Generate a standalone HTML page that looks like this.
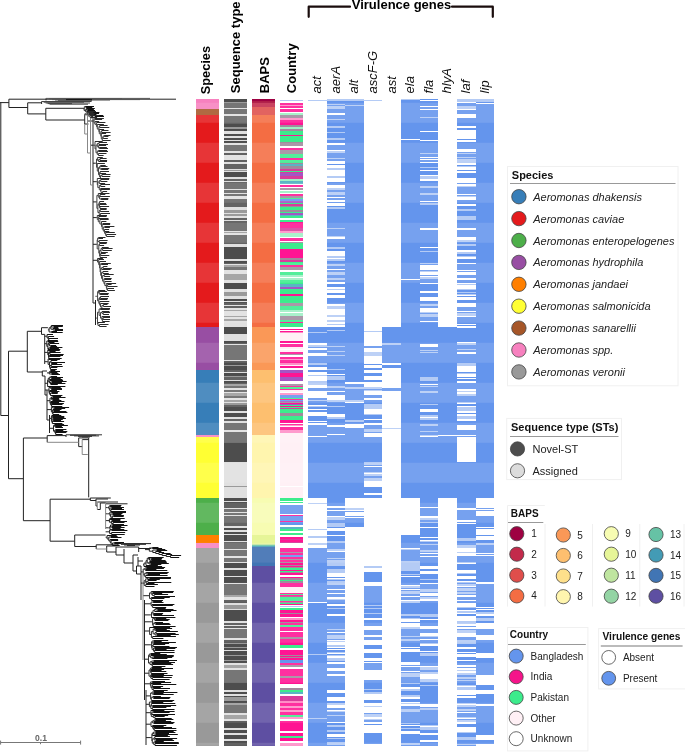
<!DOCTYPE html>
<html><head><meta charset="utf-8"><title>Aeromonas phylogeny</title>
<style>html,body{margin:0;padding:0;background:#fff;width:685px;height:752px;overflow:hidden}svg{display:block;will-change:transform}</style>
</head><body>
<svg width="685" height="752" viewBox="0 0 685 752">
<rect width="685" height="752" fill="#fff"/>
<path fill="none" stroke="#222" stroke-width="1.0" d="M0.8 102.6V415.5M0 102.6H8.9M8.9 99.2V107.5M8.9 99.2H46M46 99.2H176M46 98.4V100.4M8.9 107.5H27.7M27.7 102.8V113.9M27.7 102.8H41.6M41.6 101.5V104M27.7 113.9H45.8M45.8 108.3V120M45.8 108.3H83M86.1 106.5V107.5M85.4 107H86.1M85.4 106.5V107M84.2 106.8H85.4M87.4 109.5V110.5M86.4 110H87.4M86.4 108.5V110M85.8 109.2H86.4M87 111.5V112.5M85.8 112H87M85.8 109.2V112M84.2 110.6H85.8M84.2 106.8V110.6M83 108.7H84.2M45.8 120H84.7M84.7 114.4V124M84.7 114.4H88M89.8 112.5V113.5M89.4 113H89.8M94.9 116.5V118.5M92.8 117.5H94.9M92.8 115.5V117.5M91.2 116.5H92.8M91.2 114.5V116.5M89.4 115.5H91.2M89.4 113V115.5M88 114.2H89.4M84.7 124H88.5M93 118V303M95.5 300V325M93 303H95.5M84.7 113.9H86M87.5 121H93.5M90.5 145.2H93.5M93 163.2H95M93 181.7H96M93 201.9H96M93 217.6H96M93 244.3H96M93 260.3H97M95.5 296.3H96.5M95.5 318.1H96.5M0.8 415.5H8.5M8.5 351.2V478.7M8.5 351.2H27.3M27.3 331.3V372M27.3 331.3H41.5M41.5 327.7V334.4M41.5 327.7H47.9M53.8 326.5V327.5M51.4 327H53.8M51.4 325.5V327M50.9 326.2H51.4M54.9 329.5V330.5M53 330H54.9M53 328.5V330M50.9 329.2H53M50.9 326.2V329.2M49.1 327.8H50.9M51.6 331.5V332.5M49.1 332H51.6M49.1 327.8V332M47.9 329.9H49.1M41.5 334.4H44.7M44.7 334.4V356M48.8 338.5V340.5M48.3 339.5H48.8M48.3 336.5V339.5M47.1 338H48.3M47.1 334.5V338M46 336.2H47.1M44.7 336.2H46M48 340.5V341.5M46.8 341H48M50.6 345.5V346.5M49.6 346H50.6M49.6 343.5V346M48.7 344.8H49.6M48.7 342.5V344.8M47.9 343.6H48.7M49.8 347.5V348.5M48.5 348H49.8M48.5 348V350.5M47.9 349.2H48.5M47.9 343.6V349.2M46.8 346.4H47.9M46.8 341V346.4M46.5 343.7H46.8M44.7 343.7H46.5M48.4 349.5V350.5M47.8 350H48.4M49.9 352.5V354.5M49.6 353.5H49.9M49.6 351.5V353.5M48.5 352.5H49.6M49.3 355.5V356.5M48.8 356H49.3M48.8 356V358.5M48.5 357.2H48.8M48.5 352.5V357.2M47.8 354.9H48.5M47.8 350V354.9M47 352.4H47.8M44.7 352.4H47M49 358.5V359.5M48.1 359H49M51.4 362.5V363.5M51 363H51.4M51 360.5V363M49.5 361.8H51M51.3 364.5V366.5M49.9 365.5H51.3M50.5 367.5V369.5M49.9 368.5H50.5M49.9 365.5V368.5M49.5 367H49.9M49.5 361.8V367M48.1 364.4H49.5M48.1 359V364.4M47.5 361.7H48.1M44.7 361.7H47.5M44.7 356V364M27.3 372H42.3M42.3 371V376M42.3 371H47M50.6 370.5V371.5M50.1 371H50.6M50.1 371V372.5M49.3 371.8H50.1M51.7 373.5V374.5M49.3 374H51.7M49.3 371.8V374M47 372.9H49.3M42.3 376H45M45 376V395M47 390V420M49.5 415V433M45 395H47M47 420H49.5M51.4 377.5V378.5M50.8 378H51.4M50.8 376.5V378M49.3 377.2H50.8M49.3 377.2V379.5M48.2 378.4H49.3M51.8 381.5V382.5M50.5 382H51.8M50.8 383.5V384.5M50.5 384H50.8M50.5 382V384M49.6 383H50.5M49.6 380.5V383M48.2 381.8H49.6M48.2 378.4V381.8M47.6 380.1H48.2M47.6 380.1V386.5M47 383.3H47.6M45 383.3H47M51.5 388.5V389.5M51.2 389H51.5M51.2 387.5V389M50.4 388.2H51.2M50.4 386.5V388.2M49 387.4H50.4M49.8 390.5V391.5M49.4 391H49.8M51.7 392.5V393.5M50.5 393H51.7M50.5 393V395.5M49.4 394.2H50.5M49.4 391V394.2M49 392.6H49.4M49 387.4V392.6M47.5 390H49M45 390H47.5M52.8 396.5V397.5M51.5 397H52.8M52.9 399.5V400.5M52 400H52.9M52 398.5V400M51.5 399.2H52M51.5 397V399.2M50 398.1H51.5M51 401.5V402.5M50.4 402H51M51.6 404.5V406.5M51.2 405.5H51.6M51.2 403.5V405.5M50.4 404.5H51.2M50.4 402V404.5M50 403.2H50.4M50 398.1V403.2M49 400.7H50M47 400.7H49M54.2 407.5V408.5M52.8 408H54.2M52.8 406.5V408M51.4 407.2H52.8M53.9 410.5V411.5M53 411H53.9M53 409.5V411M52.4 410.2H53M52.9 412.5V414.5M52.4 413.5H52.9M52.4 410.2V413.5M51.4 411.9H52.4M51.4 407.2V411.9M50 409.6H51.4M47 409.6H50M52.6 416.5V417.5M51.8 417H52.6M51.8 415.5V417M51.4 416.2H51.8M53.1 418.5V419.5M51.8 419H53.1M53.2 420.5V421.5M52.4 421H53.2M52.4 421V423.5M51.8 422.2H52.4M51.8 419V422.2M51.4 420.6H51.8M51.4 416.2V420.6M51 418.4H51.4M49.5 418.4H51M55.6 426.5V427.5M55.1 427H55.6M55.1 425.5V427M54.7 426.2H55.1M54.7 424.5V426.2M53.5 425.4H54.7M55.7 429.5V430.5M54.8 430H55.7M55.7 432.5V434.5M55.4 433.5H55.7M55.4 431.5V433.5M54.8 432.5H55.4M54.8 430V432.5M53.5 431.2H54.8M53.5 425.4V431.2M52 428.3H53.5M49.5 428.3H52M8.5 478.7H23.4M23.4 438V520.7M23.4 438H47.2M47.2 435.6V442.3M47.2 435.6H66M66 434.8V437M78.7 437.9V446.6M78.7 437.9H88.7M78.7 446.6H82.2M82.2 439.6H88.7M88.7 437.9V497.4M23.4 520.7H50.1M50.1 499.2V541.2M50.1 499.2H90.3M90.3 498V500.5M90.3 498H110.8M90.3 500.5H96M96 499V506M96 499H108M96 506H97.3M97.3 502H118M97.3 509.5H100.3M100.3 503V509.5M100.3 503H105.6M105.6 503.8H127.5M110.1 505.5V506.5M109 506H110.1M111.6 507.5V508.5M109.8 508H111.6M110.9 509.5V511.5M109.8 510.5H110.9M109.8 508V510.5M109 509.2H109.8M109 506V509.2M107.5 507.6H109M105.6 507.6H107.5M111.3 511.5V512.5M109.9 512H111.3M112.7 513.5V514.5M110.7 514H112.7M113.4 515.5V516.5M112.3 516H113.4M112.3 516V518.5M110.7 517.2H112.3M110.7 514V517.2M109.9 515.6H110.7M109.9 512V515.6M107.5 513.8H109.9M105.6 513.8H107.5M110.1 518.5V519.5M109.4 519H110.1M112.1 520.5V521.5M111.4 521H112.1M113.1 522.5V524.5M111.4 523.5H113.1M111.4 521V523.5M109.4 522.2H111.4M109.4 519V522.2M108 520.6H109.4M105.6 520.6H108M112.6 524.5V525.5M110.5 525H112.6M111.9 526.5V527.5M110.5 527H111.9M110.5 525V527M110 526H110.5M112.4 528.5V530.5M110 529.5H112.4M110 526V529.5M108.5 527.8H110M105.6 527.8H108.5M112.1 529.5V530.5M109.6 530H112.1M111.6 532.5V534.5M109.6 533.5H111.6M109.6 530V533.5M109 531.8H109.6M105.6 531.8H109M50.1 541.2H74.7M74.7 535V546.5M74.7 535H105.6M111 536.5V537.5M108.8 537H111M114.4 542.5V543.5M112.5 543H114.4M112.5 543V545.5M111.1 544.2H112.5M111.1 540.5V544.2M110.1 542.4H111.1M110.1 539.5V542.4M108.8 540.9H110.1M108.8 537V540.9M107.1 539H108.8M107.1 535.5V539M105.6 537.2H107.1M74.7 546.5H96.2M96.2 544.8V549M96.2 544.8H118M118 543.6H151M121 544.3H146M124 545H140M127 545.6H135M118 543.6V545.6M106.7 546V552M106.7 546H116M106.7 552H116M116 547V555M116 547H138.7M138.7 547V552M138.7 548.5H151M152.4 547.5V548.5M149.3 548H152.4M156.8 549.5V550.5M152.8 550H156.8M170.5 555.5V557.5M166.2 556.5H170.5M166.2 554.5V556.5M162.1 555.5H166.2M162.1 553.5V555.5M158.9 554.5H162.1M158.9 552.5V554.5M155.7 553.5H158.9M155.7 551.5V553.5M152.8 552.5H155.7M152.8 550V552.5M149.3 551.2H152.8M149.3 548V551.2M145 549.6H149.3M116 555H124M124 549V563M124 563H133M133 555V571M133 555H138M138 557V566M151.3 557.5V558.5M149.5 558H151.3M151.7 560.5V561.5M151.1 561H151.7M151.1 559.5V561M149.5 560.2H151.1M149.5 558V560.2M148.4 559.1H149.5M148.4 557.5V559.1M147.2 558.3H148.4M149.8 561.5V562.5M149 562H149.8M150.7 563.5V564.5M149 564H150.7M149 562V564M147.2 563H149M147.2 558.3V563M146 560.7H147.2M146 560.7V565.5M144 563.1H146M144 563.1V566.5M143 564.8H144M138 561H143M133 571H136.5M136.5 566V574M136.5 566H141M136.5 574H141M141 566V600M144.5 600V700M146 690V745M141 571.9H142M141 583.1H143M143 595.7H149M144.5 603.8H150M144.5 614.9H150M144.5 621.8H151M144.5 631H149M144.5 644.8H150M144.5 659.2H148M144.5 673.2H148M144.5 683.8H150M146 695.9H150M146 704.3H149M146 712.7H150M146 724.2H150M146 737.6H150"/>
<path fill="none" stroke="#555" stroke-width="1.0" d="M46 98.4H150M49 98.8H122M52 99.6H140M55 100H110M58 100.4H92"/>
<path fill="none" stroke="#111" stroke-width="1.0" d="M66 99.6H92M85.4 106.5H94M86.1 106.5H91.9M86.1 107.5H92.3M86.4 108.5H94.8M87.4 109.5H93.9M87.4 110.5H95M87 111.5H95.9M87 112.5H94.9M89.8 112.5H99.4M89.8 113.5H99M91.2 114.5H96.5M92.8 115.5H103.3M94.9 116.5H104M94.9 118.5H100.3M51.4 325.5H63M53.8 326.5H62.8M53.8 327.5H58.3M53 328.5H58.7M54.9 329.5H63M54.9 330.5H63M51.6 331.5H57M51.6 332.5H62.7M47.1 334.5H53M48.3 336.5H54.1M48.8 338.5H58M48.8 340.5H57.6M48 340.5H57.6M48 341.5H58.2M48.7 342.5H54.5M49.6 343.5H59.1M50.6 345.5H56.1M50.6 346.5H57.1M49.8 347.5H62.4M49.8 348.5H58.9M48.5 350.5H59.4M48.4 349.5H60.3M48.4 350.5H59.6M49.6 351.5H55.6M49.9 352.5H60.6M49.9 354.5H63.7M49.3 355.5H63M49.3 356.5H60.4M48.8 358.5H60.2M49 358.5H61.7M49 359.5H59.9M51 360.5H57.3M51.4 362.5H65M51.4 363.5H57.2M51.3 364.5H61.9M51.3 366.5H62.7M50.5 367.5H57.4M50.5 369.5H56.9M50.6 370.5H55.4M50.6 371.5H60M50.1 372.5H57.3M51.7 373.5H58.5M51.7 374.5H60M50.8 376.5H57.1M51.4 377.5H63M51.4 378.5H60.7M49.3 379.5H62.4M49.6 380.5H63.1M51.8 381.5H66.6M51.8 382.5H61.9M50.8 383.5H65.4M50.8 384.5H57.8M47.6 386.5H61.7M50.4 386.5H65.4M51.2 387.5H60.7M51.5 388.5H61.9M51.5 389.5H62M49.8 390.5H57M49.8 391.5H59.4M51.7 392.5H57.9M51.7 393.5H57.7M50.5 395.5H62.4M52.8 396.5H61.1M52.8 397.5H65.5M52 398.5H59.2M52.9 399.5H59.4M52.9 400.5H61.4M51 401.5H64.5M51 402.5H59.1M51.2 403.5H63.9M51.6 404.5H62.5M51.6 406.5H59.9M52.8 406.5H62.3M54.2 407.5H69.1M54.2 408.5H65.2M53 409.5H61.5M53.9 410.5H59.9M53.9 411.5H66.4M52.9 412.5H67.4M52.9 414.5H59.2M51.8 415.5H61.3M52.6 416.5H64.3M52.6 417.5H64.3M53.1 418.5H65.9M53.1 419.5H62.8M53.2 420.5H61.1M53.2 421.5H64.1M52.4 423.5H62.4M54.7 424.5H64.1M55.1 425.5H67.9M55.6 426.5H61.9M55.6 427.5H63M55.7 429.5H66.4M55.7 430.5H63.3M55.4 431.5H67.3M55.7 432.5H66.4M55.7 434.5H62.6M110.1 505.5H121.4M110.1 506.5H120.8M111.6 507.5H124M111.6 508.5H122M110.9 509.5H124M110.9 511.5H123.9M111.3 511.5H126M111.3 512.5H126M112.7 513.5H122.5M112.7 514.5H121.4M113.4 515.5H123.9M113.4 516.5H123.7M112.3 518.5H123.7M110.1 518.5H124.7M110.1 519.5H120.5M112.1 520.5H120.4M112.1 521.5H127M113.1 522.5H124.5M113.1 524.5H124M112.6 524.5H121.8M112.6 525.5H127.5M111.9 526.5H121.3M111.9 527.5H124.6M112.4 528.5H120.6M112.4 530.5H124M112.1 529.5H124.3M112.1 530.5H127.4M111.6 532.5H125.2M111.6 534.5H124.7M107.1 535.5H116.7M111 536.5H117.6M111 537.5H121.5M110.1 539.5H118.1M111.1 540.5H118.2M114.4 542.5H124M114.4 543.5H120.8M112.5 545.5H119.7M152.4 547.5H158.5M152.4 548.5H162.1M156.8 549.5H165.3M156.8 550.5H167.2M155.7 551.5H161.4M158.9 552.5H164.1M162.1 553.5H170.6M166.2 554.5H172.1M170.5 555.5H181.1M170.5 557.5H179.2M148.4 557.5H163.7M151.3 557.5H161M151.3 558.5H162.2M151.1 559.5H161.6M151.7 560.5H165.6M151.7 561.5H166.4M149.8 561.5H165.8M149.8 562.5H166.8M150.7 563.5H168.8M150.7 564.5H161.3M146 565.5H157.9M144 566.5H162.1M146.2 567.5H165.1M146.2 568.5H163.9M145.5 569.5H156.4M145.5 570.5H167.3M146.1 572.5H168.7M147.6 573.5H167.5M147.6 574.5H160M145.6 575.5H167.6M145.6 577.5H167.5M149.5 577.5H171M149.5 578.5H170.8M147.6 579.5H159.8M147.9 580.5H156.6M147.9 582.5H171.3M146.2 583.5H154.5M145.7 584.5H157.9M145.7 586.5H154.5M151.2 591.5H173.8M152.8 592.5H173.1M152.8 593.5H162.2M154.2 594.5H168.1M154.2 596.5H175M151.2 597.5H169.8M151.6 598.5H164.4M151.6 600.5H163M153.1 601.5H161.9M153.1 602.5H163.5M152 604.5H174.4M152.6 605.5H172.8M152.6 607.5H166.2M155.6 608.5H165.7M157.5 609.5H173.5M157.5 610.5H176.5M154.6 611.5H171.1M153.3 613.5H163.1M153.8 614.5H162.3M153.8 615.5H174M151.5 617.5H175.4M154.5 617.5H162.7M155.4 618.5H166.3M155.4 619.5H169.7M154.9 620.5H168.4M154.7 622.5H163M155.7 623.5H169.6M155.7 624.5H170.6M153.2 626.5H175.6M149.6 627.5H170.1M154.2 628.5H172.1M155.3 629.5H166.8M155.3 630.5H169.9M156.2 631.5H177.9M156.2 633.5H175.6M156.9 634.5H178.8M156.9 635.5H170.7M152.6 636.5H175.9M152.6 638.5H163.4M153.7 640.5H168.2M153.7 641.5H161.7M153.6 642.5H175.9M153.6 643.5H169.1M153.1 644.5H165.2M153.1 646.5H169.5M154.5 647.5H177M154.5 648.5H175.4M155 649.5H166.6M155 650.5H174.5M154.6 652.5H174.6M150.8 653.5H160.3M150.8 654.5H166.8M150.7 655.5H173.8M153.7 656.5H173.6M153.7 657.5H172.2M152.2 658.5H167.4M153.7 660.5H177M153.7 661.5H169.2M151.7 662.5H175M151.9 663.5H171.3M152.3 664.5H173.1M152.3 666.5H165.4M151.8 667.5H161.7M151.8 668.5H173M150.7 669.5H164.1M150.7 670.5H161.6M151.1 671.5H166.3M151.1 673.5H167.5M151.1 674.5H164.1M151.1 675.5H172.7M151 676.5H163.6M152.5 677.5H171.8M152.5 679.5H169.6M152.2 681.5H165M152.2 682.5H171.1M150.9 683.5H161.2M152.4 684.5H176.3M152.7 686.5H163.1M152.7 687.5H160.8M153.3 688.5H170M153.3 690.5H167.7M153.7 691.5H164M153.7 692.5H177.4M153.4 693.5H163.5M153.4 694.5H173.7M152.9 696.5H160.9M153.6 697.5H170.4M153.6 698.5H169.6M151.3 700.5H174.2M151.4 701.5H172.6M151.4 702.5H163.3M151.4 703.5H175.3M152.5 705.5H176.2M152.5 706.5H170.9M152.4 707.5H166.4M152.4 709.5H174.5M150.9 710.5H164.4M153.2 711.5H174.6M153.2 712.5H169.6M152 714.5H175M153.2 715.5H168.2M154.9 716.5H164.7M154.9 718.5H171.7M155.2 719.5H173.4M155.2 720.5H165.9M153.9 721.5H171.2M154 722.5H174.5M154 723.5H173.4M152.5 725.5H166.3M152.8 726.5H163.7M153.5 727.5H172M154.3 728.5H176.3M154.3 730.5H176.5M155.4 731.5H173.7M155.4 732.5H175.4M155.5 733.5H169M155.5 734.5H177.8M152.3 735.5H167.9M154.9 736.5H169.9M154.9 738.5H177.1M155.8 739.5H172.6M155.8 740.5H174.1M154.8 741.5H163.8M154.8 742.5H178.7M155 743.5H178.9M155 745.5H176.9"/>
<path fill="none" stroke="#444" stroke-width="1.0" d="M41.6 101.5H91.6M43.6 102.2H84M45.6 103H90M47.6 103.6H72M49.6 104.2H88M88.8 112.5V113.5M88.2 113H88.8M88.2 111.5V113M87.5 112.2H88.2M90.2 115.5V117.5M89 116.5H90.2M89 114.5V116.5M87.5 115.5H89M87.5 112.2V115.5M86 113.9H87.5M95.1 118.5V119.5M94.1 119H95.1M99.7 125.5V127.5M98.9 126.5H99.7M101.7 130.5V132.5M100.8 131.5H101.7M104.2 135.5V136.5M103.2 136H104.2M103.2 136V138.5M102.3 137.2H103.2M102.3 137.2V140.5M101.3 138.9H102.3M101.3 133.5V138.9M100.8 136.2H101.3M100.8 131.5V136.2M99.3 133.8H100.8M99.3 129.5V133.8M98.9 131.7H99.3M98.9 126.5V131.7M97.3 129.1H98.9M97.3 124.5V129.1M96.6 126.8H97.3M96.6 122.5V126.8M95.1 124.6H96.6M95.1 121.5V124.6M94.1 123.1H95.1M94.1 119V123.1M93.5 121H94.1M98.9 142.5V144.5M97.3 143.5H98.9M99.4 147.5V148.5M98.6 148H99.4M98.6 145.5V148M97.3 146.8H98.6M97.3 143.5V146.8M96 145.1H97.3M98.4 150.5V151.5M97.3 151H98.4M98.5 153.5V155.5M97.3 154.5H98.5M97.3 151V154.5M96 152.8H97.3M96 145.1V152.8M95 148.9H96M95 141.5V148.9M93.5 145.2H95M100 158.5V160.5M98.6 159.5H100M98.6 159.5V161.5M97.6 160.5H98.6M97.6 157.5V160.5M96.5 159H97.6M100.6 165.5V166.5M99.8 166H100.6M101.2 168.5V169.5M99.8 169H101.2M99.8 166V169M98.5 167.5H99.8M100.1 171.5V173.5M99.6 172.5H100.1M101.9 174.5V176.5M100.5 175.5H101.9M100.5 175.5V178.5M99.6 177H100.5M99.6 172.5V177M98.5 174.8H99.6M98.5 167.5V174.8M97.3 171.1H98.5M97.3 163.5V171.1M96.5 167.3H97.3M96.5 159V167.3M95 163.2H96.5M100.7 179.5V181.5M99.3 180.5H100.7M99.3 180.5V183.5M97.8 182H99.3M100.7 184.5V186.5M99.3 185.5H100.7M102.6 191.5V193.5M101 192.5H102.6M101 189.5V192.5M100.5 191H101M100.5 188.5V191M99.3 189.8H100.5M99.3 185.5V189.8M97.8 187.6H99.3M97.8 182V187.6M97.3 184.8H97.8M97.3 178.5V184.8M96 181.7H97.3M100.1 194.5V196.5M99.6 195.5H100.1M101.1 198.5V199.5M99.6 199H101.1M99.6 195.5V199M98.3 197.2H99.6M98.3 193.5V197.2M96.9 195.4H98.3M99.6 201.5V203.5M99 202.5H99.6M100 206.5V208.5M99.5 207.5H100M99.5 204.5V207.5M99 206H99.5M99 202.5V206M97.9 204.2H99M100.2 209.5V211.5M99.2 210.5H100.2M100.4 213.5V215.5M99.2 214.5H100.4M99.2 210.5V214.5M97.9 212.5H99.2M97.9 204.2V212.5M96.9 208.4H97.9M96.9 195.4V208.4M96 201.9H96.9M98.8 216.5V218.5M98.3 217.5H98.8M103 223.5V224.5M102.2 224H103M104.7 226.5V227.5M103.3 227H104.7M106.5 234.5V236.5M105.7 235.5H106.5M105.7 232.5V235.5M105 234H105.7M105 231.5V234M104.5 232.8H105M104.5 229.5V232.8M103.3 231.1H104.5M103.3 227V231.1M102.2 229.1H103.3M102.2 224V229.1M101.5 226.5H102.2M101.5 221.5V226.5M99.9 224H101.5M99.9 219.5V224M98.3 221.8H99.9M98.3 217.5V221.8M97.3 219.6H98.3M97.3 215.5V219.6M96 217.6H97.3M98.5 237.5V238.5M97.7 238H98.5M99.2 240.5V242.5M97.7 241.5H99.2M97.7 238V241.5M97.2 239.8H97.7M99.5 243.5V245.5M98.8 244.5H99.5M102.6 248.5V250.5M102 249.5H102.6M102 247.5V249.5M101 248.5H102M101 248.5V252.5M99.6 250.5H101M100.7 253.5V255.5M100.1 254.5H100.7M100.1 254.5V257.5M99.6 256H100.1M99.6 250.5V256M98.8 253.2H99.6M98.8 244.5V253.2M97.2 248.9H98.8M97.2 239.8V248.9M96 244.3H97.2M101.3 263.5V264.5M100.1 264H101.3M103.2 266.5V268.5M101.7 267.5H103.2M101.7 267.5V269.5M100.7 268.5H101.7M102.9 271.5V273.5M101.5 272.5H102.9M104.2 274.5V276.5M102.6 275.5H104.2M104.4 278.5V279.5M103.9 279H104.4M107.6 284.5V286.5M106.7 285.5H107.6M107.5 288.5V290.5M106.7 289.5H107.5M106.7 285.5V289.5M106.3 287.5H106.7M106.3 283.5V287.5M104.8 285.5H106.3M104.8 281.5V285.5M103.9 283.5H104.8M103.9 279V283.5M102.6 281.2H103.9M102.6 275.5V281.2M101.5 278.4H102.6M101.5 272.5V278.4M100.7 275.4H101.5M100.7 268.5V275.4M100.1 272H100.7M100.1 264V272M99.6 268H100.1M99.6 261.5V268M98.7 264.7H99.6M98.7 259.5V264.7M97.5 262.1H98.7M97.5 258.5V262.1M97 260.3H97.5M100.1 293.5V294.5M99.2 294H100.1M99.2 291.5V294M98.6 292.8H99.2M98.6 290.5V292.8M97.6 291.6H98.6M100.5 296.5V298.5M99.5 297.5H100.5M99.5 297.5V299.5M98.8 298.5H99.5M103.4 304.5V306.5M101.9 305.5H103.4M101.9 305.5V308.5M100.5 307H101.9M100.5 303.5V307M99.7 305.2H100.5M99.7 301.5V305.2M98.8 303.4H99.7M98.8 298.5V303.4M97.6 300.9H98.8M97.6 291.6V300.9M96.5 296.3H97.6M100.3 308.5V309.5M99.1 309H100.3M103.2 312.5V314.5M102 313.5H103.2M102 311.5V313.5M100.5 312.5H102M103.1 317.5V319.5M102.4 318.5H103.1M102.4 318.5V321.5M101.9 320H102.4M101.9 316.5V320M100.5 318.2H101.9M100.5 312.5V318.2M99.1 315.4H100.5M99.1 309V315.4M97.5 312.2H99.1M99.5 324.5V326.5M98 325.5H99.5M98 322.5V325.5M97.5 324H98M97.5 312.2V324M96.5 318.1H97.5"/>
<path fill="none" stroke="#888" stroke-width="1.0" d="M84.7 124V134M87.5 115V153M90.5 116V185M84.7 134H87.5M87.5 153H90.5M90.5 185H93M84.7 115H87.5M87.5 116H90.5M90.5 118H93M47.2 442.3H78.7M82.2 439.6V454.5M82.2 454.5H87.8M97.3 502V509.5M105.6 503.8V529M96.2 549H106.7M143 575V660"/>
<path fill="none" stroke="#2a2a2a" stroke-width="1.0" d="M88.2 111.5H95.6M88.8 112.5H93.4M88.8 113.5H94.7M89 114.5H94.2M90.2 115.5H99M90.2 117.5H97.1M95.1 118.5H103.9M95.1 119.5H102.1M95.1 121.5H99.2M96.6 122.5H105.4M97.3 124.5H103.9M99.7 125.5H107.6M99.7 127.5H109.3M99.3 129.5H104.1M101.7 130.5H108.5M101.7 132.5H110.6M101.3 133.5H106.1M104.2 135.5H110.5M104.2 136.5H108.4M103.2 138.5H107.8M102.3 140.5H110.6M95 141.5H102.7M98.9 142.5H107M98.9 144.5H108M98.6 145.5H106.1M99.4 147.5H106.9M99.4 148.5H108M98.4 150.5H107.1M98.4 151.5H108M98.5 153.5H106.5M98.5 155.5H103.6M97.6 157.5H102.8M100 158.5H106.6M100 160.5H107.1M98.6 161.5H107M97.3 163.5H104.9M100.6 165.5H105.7M100.6 166.5H107.5M101.2 168.5H109.2M101.2 169.5H108.3M100.1 171.5H109M100.1 173.5H106.1M101.9 174.5H110.6M101.9 176.5H110.2M100.5 178.5H109.4M97.3 178.5H105.3M100.7 179.5H109.1M100.7 181.5H107.4M99.3 183.5H105.1M100.7 184.5H110M100.7 186.5H105.2M100.5 188.5H109.9M101 189.5H109.9M102.6 191.5H107.1M102.6 193.5H109.5M98.3 193.5H107.4M100.1 194.5H105.3M100.1 196.5H109.9M101.1 198.5H108.4M101.1 199.5H108.2M99.6 201.5H104.1M99.6 203.5H106.1M99.5 204.5H106.7M100 206.5H109.1M100 208.5H106.7M100.2 209.5H106.6M100.2 211.5H109.1M100.4 213.5H110M100.4 215.5H107M97.3 215.5H103.9M98.8 216.5H106.6M98.8 218.5H108.5M99.9 219.5H108.7M101.5 221.5H106.4M103 223.5H110.2M103 224.5H110.1M104.7 226.5H114.4M104.7 227.5H109.9M104.5 229.5H109.1M105 231.5H109.3M105.7 232.5H114.8M106.5 234.5H116.1M106.5 236.5H114.7M98.5 237.5H105.5M98.5 238.5H103M99.2 240.5H107.6M99.2 242.5H107.1M99.5 243.5H106.6M99.5 245.5H104.1M102 247.5H108.7M102.6 248.5H112.6M102.6 250.5H111.8M101 252.5H107.8M100.7 253.5H105.7M100.7 255.5H109.3M100.1 257.5H107M97.5 258.5H102.9M98.7 259.5H104M99.6 261.5H106M101.3 263.5H110.8M101.3 264.5H108M103.2 266.5H107.4M103.2 268.5H111.8M101.7 269.5H110.6M102.9 271.5H108.3M102.9 273.5H108.8M104.2 274.5H113.7M104.2 276.5H110.1M104.4 278.5H111.7M104.4 279.5H111.1M104.8 281.5H111.6M106.3 283.5H116.1M107.6 284.5H111.6M107.6 286.5H117.5M107.5 288.5H114M107.5 290.5H114.9M98.6 290.5H105.2M99.2 291.5H106.9M100.1 293.5H108.8M100.1 294.5H108.2M100.5 296.5H109M100.5 298.5H108M99.5 299.5H107.4M99.7 301.5H109.3M100.5 303.5H108.6M103.4 304.5H107.5M103.4 306.5H111M101.9 308.5H108.2M100.3 308.5H110M100.3 309.5H109.7M102 311.5H109.4M103.2 312.5H110M103.2 314.5H109M101.9 316.5H110M103.1 317.5H110M103.1 319.5H110M102.4 321.5H109.6M98 322.5H104.9M99.5 324.5H108.5M99.5 326.5H106.6"/>
<path fill="none" stroke="#333" stroke-width="1.0" d="M66 434.8H102M70 435.3H96M74 435.9H99M78 436.4H92M82 437H90M146.2 567.5V568.5M144.9 568H146.2M145.5 569.5V570.5M144.9 570H145.5M144.9 568V570M143.2 569H144.9M147.6 573.5V574.5M146.1 574H147.6M146.1 572.5V574M144.7 573.2H146.1M145.6 575.5V577.5M144.7 576.5H145.6M144.7 573.2V576.5M143.2 574.9H144.7M143.2 569V574.9M142 571.9H143.2M149.5 577.5V578.5M147.6 578H149.5M147.6 578V579.5M145.7 578.8H147.6M147.9 580.5V582.5M146.2 581.5H147.9M146.2 581.5V583.5M145.7 582.5H146.2M145.7 578.8V582.5M144.2 580.6H145.7M145.7 584.5V586.5M144.2 585.5H145.7M144.2 580.6V585.5M143 583.1H144.2M152.8 592.5V593.5M152.3 593H152.8M154.2 594.5V596.5M152.3 595.5H154.2M152.3 593V595.5M151.2 594.2H152.3M151.2 591.5V594.2M149.5 592.9H151.2M151.6 598.5V600.5M151.2 599.5H151.6M151.2 597.5V599.5M149.5 598.5H151.2M149.5 592.9V598.5M149 595.7H149.5M153.1 601.5V602.5M151.1 602H153.1M152.6 605.5V607.5M152 606.5H152.6M152 604.5V606.5M151.1 605.5H152M151.1 602V605.5M150 603.8H151.1M157.5 609.5V610.5M155.6 610H157.5M155.6 608.5V610M154.6 609.2H155.6M154.6 609.2V611.5M153 610.4H154.6M153.8 614.5V615.5M153.3 615H153.8M153.3 613.5V615M153 614.2H153.3M153 610.4V614.2M151.5 612.3H153M151.5 612.3V617.5M150 614.9H151.5M155.4 618.5V619.5M154.9 619H155.4M154.9 619V620.5M154.5 619.8H154.9M154.5 617.5V619.8M152.6 618.6H154.5M155.7 623.5V624.5M154.7 624H155.7M154.7 622.5V624M153.2 623.2H154.7M153.2 623.2V626.5M152.6 624.9H153.2M152.6 618.6V624.9M151 621.8H152.6M155.3 629.5V630.5M154.2 630H155.3M154.2 628.5V630M153.1 629.2H154.2M156.2 631.5V633.5M155 632.5H156.2M156.9 634.5V635.5M155 635H156.9M155 632.5V635M153.1 633.8H155M153.1 629.2V633.8M151.4 631.5H153.1M152.6 636.5V638.5M151.4 637.5H152.6M151.4 631.5V637.5M149.6 634.5H151.4M149.6 627.5V634.5M149 631H149.6M153.7 640.5V641.5M152 641H153.7M153.6 642.5V643.5M152 643H153.6M152 641V643M151.6 642H152M153.1 644.5V646.5M152.1 645.5H153.1M154.5 647.5V648.5M153.5 648H154.5M155 649.5V650.5M154.6 650H155M154.6 650V652.5M153.5 651.2H154.6M153.5 648V651.2M152.1 649.6H153.5M152.1 645.5V649.6M151.6 647.6H152.1M151.6 642V647.6M150 644.8H151.6M150.8 653.5V654.5M149.3 654H150.8M153.7 656.5V657.5M152.2 657H153.7M152.2 657V658.5M150.7 657.8H152.2M150.7 655.5V657.8M149.3 656.6H150.7M149.3 654V656.6M148.5 655.3H149.3M153.7 660.5V661.5M151.7 661H153.7M151.7 661V662.5M150 661.8H151.7M152.3 664.5V666.5M151.9 665.5H152.3M151.9 663.5V665.5M150 664.5H151.9M150 661.8V664.5M148.5 663.1H150M148.5 655.3V663.1M148 659.2H148.5M151.8 667.5V668.5M150.7 668H151.8M150.7 668V669.5M150.2 668.8H150.7M151.1 671.5V673.5M150.7 672.5H151.1M150.7 670.5V672.5M150.2 671.5H150.7M150.2 668.8V671.5M149 670.1H150.2M151.1 674.5V675.5M150.7 675H151.1M152.5 677.5V679.5M151 678.5H152.5M151 676.5V678.5M150.7 677.5H151M150.7 675V677.5M149 676.2H150.7M149 670.1V676.2M148 673.2H149M152.2 681.5V682.5M150.4 682H152.2M152.7 686.5V687.5M152.4 687H152.7M152.4 684.5V687M152 685.8H152.4M153.3 688.5V690.5M152 689.5H153.3M152 685.8V689.5M150.9 687.6H152M150.9 683.5V687.6M150.4 685.6H150.9M150.4 682V685.6M150 683.8H150.4M153.7 691.5V692.5M152 692H153.7M153.4 693.5V694.5M152 694H153.4M152 692V694M150.6 693H152M153.6 697.5V698.5M152.9 698H153.6M152.9 696.5V698M151.3 697.2H152.9M151.3 697.2V700.5M150.6 698.9H151.3M150.6 693V698.9M150 695.9H150.6M151.4 701.5V702.5M149.4 702H151.4M152.5 705.5V706.5M151.4 706H152.5M151.4 703.5V706M150.8 704.8H151.4M152.4 707.5V709.5M150.8 708.5H152.4M150.8 704.8V708.5M149.4 706.6H150.8M149.4 702V706.6M149 704.3H149.4M153.2 711.5V712.5M152 712H153.2M152 712V714.5M151.3 713.2H152M154.9 716.5V718.5M153.2 717.5H154.9M153.2 715.5V717.5M151.3 716.5H153.2M151.3 713.2V716.5M150.9 714.9H151.3M150.9 710.5V714.9M150 712.7H150.9M155.2 719.5V720.5M153.9 720H155.2M153.9 720V721.5M152.7 720.8H153.9M154 722.5V723.5M152.7 723H154M152.7 720.8V723M151 721.9H152.7M154.3 728.5V730.5M153.5 729.5H154.3M153.5 727.5V729.5M152.8 728.5H153.5M152.8 726.5V728.5M152.5 727.5H152.8M152.5 725.5V727.5M151 726.5H152.5M151 721.9V726.5M150 724.2H151M155.4 731.5V732.5M153.6 732H155.4M155.5 733.5V734.5M153.6 734H155.5M153.6 732V734M152.3 733H153.6M152.3 733V735.5M151.9 734.2H152.3M154.9 736.5V738.5M154.2 737.5H154.9M155.8 739.5V740.5M154.2 740H155.8M154.2 737.5V740M152.3 738.8H154.2M154.8 741.5V742.5M153.7 742H154.8M155 743.5V745.5M153.7 744.5H155M153.7 742V744.5M152.3 743.2H153.7M152.3 738.8V743.2M151.9 741H152.3M151.9 734.2V741M150 737.6H151.9"/>
<g shape-rendering="crispEdges">
<path fill="#f781bf" d="M196 99h23v10h-23zM196 435h23v2h-23zM196 543h23v5h-23z"/>
<path fill="#a65628" d="M196 109h23v5.6h-23z"/>
<path fill="#e41a1c" d="M196 114.6h23v212.4h-23z"/>
<path fill="#984ea3" d="M196 327h23v43h-23z"/>
<path fill="#377eb8" d="M196 370h23v65h-23z"/>
<path fill="#ffff33" d="M196 437h23v61h-23z"/>
<path fill="#4daf4a" d="M196 498h23v37h-23z"/>
<path fill="#ff7f00" d="M196 535h23v8h-23z"/>
<path fill="#999999" d="M196 548h23v198h-23z"/>
<path fill="#9e0142" d="M252 99h23v2h-23z"/>
<path fill="#b01d48" d="M252 101h23v2.3h-23z"/>
<path fill="#c32a4b" d="M252 103.3h23v3.9h-23z"/>
<path fill="#df4e4b" d="M252 107.2h23v7.5h-23z"/>
<path fill="#f46d43" d="M252 114.7h23v212.3h-23z"/>
<path fill="#fa9857" d="M252 327h23v43h-23z"/>
<path fill="#fdbf6f" d="M252 370h23v65h-23z"/>
<path fill="#fff5ae" d="M252 435h23v63h-23z"/>
<path fill="#f7fcb2" d="M252 498h23v37h-23z"/>
<path fill="#e6f598" d="M252 535h23v9h-23z"/>
<path fill="#bfe5a0" d="M252 544h23v1h-23z"/>
<path fill="#66c2a5" d="M252 545h23v1h-23z"/>
<path fill="#439bb5" d="M252 546h23v1h-23z"/>
<path fill="#3a6cb0" d="M252 547h23v16h-23z"/>
<path fill="#4175b4" d="M252 563h23v3h-23z"/>
<path fill="#5e4fa2" d="M252 566h23v180h-23z"/>
<path fill="#4d4d4d" d="M224 99h23v3h-23zM224 124h23v2.5h-23zM224 129h23v2h-23zM224 134.4h23v1.2h-23zM224 138h23v1.7h-23zM224 141.4h23v1.8h-23zM224 152.8h23v1.8h-23zM224 159.8h23v2.6h-23zM224 172.2h23v5.2h-23zM224 246.9h23v11.8h-23zM224 260.5h23v3h-23zM224 283h23v6h-23zM224 299h23v1.5h-23zM224 302h23v3h-23zM224 306h23v1.5h-23zM224 327h23v7h-23zM224 341h23v2.5h-23zM224 361h23v4h-23zM224 366h23v4h-23zM224 373h23v3h-23zM224 381h23v3h-23zM224 407h23v4h-23zM224 413h23v4h-23zM224 443h23v18.5h-23zM224 498h23v2.5h-23zM224 502h23v6h-23zM224 528h23v2h-23zM224 532h23v1.5h-23zM224 535h23v6h-23zM224 563h23v4.5h-23zM224 570h23v5.5h-23zM224 577h23v5.5h-23zM224 600h23v3h-23zM224 610h23v11h-23zM224 622.5h23v2.5h-23zM224 626h23v2h-23zM224 640h23v3h-23zM224 644h23v3h-23zM224 648h23v2h-23zM224 651h23v4h-23zM224 656h23v4h-23zM224 661h23v2h-23zM224 683h23v7h-23zM224 692h23v2h-23zM224 696h23v1h-23zM224 701h23v2h-23zM224 720.5h23v7.5h-23zM224 730h23v3h-23zM224 735h23v4h-23zM224 741h23v5h-23z"/>
<path fill="#9a9a9a" d="M224 102h23v1.4h-23zM224 126.5h23v2.5h-23zM224 170.3h23v0.9h-23zM224 209.7h23v3.1h-23zM224 213.7h23v2.5h-23zM224 232h23v1.3h-23zM224 265h23v2h-23zM224 274h23v6h-23zM224 292h23v4h-23zM224 310h23v1h-23zM224 315.5h23v1.5h-23zM224 319h23v1.5h-23zM224 365h23v1h-23zM224 376h23v1h-23zM224 384h23v2h-23zM224 393h23v3h-23zM224 400h23v2h-23zM224 403h23v2h-23zM224 486h23v1h-23zM224 595h23v2h-23zM224 605h23v4h-23zM224 643h23v1h-23zM224 647h23v1h-23zM224 655h23v1h-23zM224 660h23v1h-23zM224 665h23v3h-23zM224 697h23v4h-23zM224 703h23v2h-23zM224 714.5h23v4.5h-23z"/>
<path fill="#646464" d="M224 103.4h23v4.6h-23zM224 109h23v5.3h-23zM224 115.7h23v8.3h-23zM224 145h23v6h-23zM224 164h23v4.6h-23zM224 178.7h23v2.5h-23zM224 182.2h23v6.4h-23zM224 189.9h23v3.1h-23zM224 193.8h23v2.2h-23zM224 199.2h23v8h-23zM224 217.8h23v1.8h-23zM224 220.9h23v9.9h-23zM224 235.1h23v8.7h-23zM224 267h23v3h-23zM224 345h23v14.5h-23zM224 370h23v2h-23zM224 377h23v3h-23zM224 386h23v2h-23zM224 389.5h23v2.5h-23zM224 396h23v2h-23zM224 405h23v2h-23zM224 419h23v2h-23zM224 423h23v7h-23zM224 432h23v11h-23zM224 509h23v3h-23zM224 513h23v2h-23zM224 516h23v10h-23zM224 542h23v7h-23zM224 550h23v6h-23zM224 558h23v4h-23zM224 583.5h23v11.5h-23zM224 629h23v9h-23zM224 670h23v13h-23zM224 705h23v3h-23zM224 708h23v5h-23z"/>
<path fill="#e0e0e0" d="M224 108h23v1h-23zM224 114.3h23v1.4h-23zM224 131h23v3.4h-23zM224 135.6h23v2.4h-23zM224 139.7h23v1.7h-23zM224 143.2h23v1.8h-23zM224 151h23v1.8h-23zM224 154.6h23v5.2h-23zM224 162.4h23v1.6h-23zM224 168.6h23v1.7h-23zM224 171.2h23v1h-23zM224 177.4h23v1.3h-23zM224 181.2h23v1h-23zM224 188.6h23v1.3h-23zM224 193h23v0.8h-23zM224 196h23v3.2h-23zM224 207.2h23v2.5h-23zM224 212.8h23v0.9h-23zM224 216.2h23v1.6h-23zM224 219.6h23v1.3h-23zM224 230.8h23v1.2h-23zM224 233.3h23v1.8h-23zM224 243.8h23v3.1h-23zM224 258.7h23v1.8h-23zM224 263.5h23v1.5h-23zM224 270h23v4h-23zM224 280h23v3h-23zM224 289h23v3h-23zM224 296h23v3h-23zM224 300.5h23v1.5h-23zM224 305h23v1h-23zM224 307.5h23v2.5h-23zM224 311h23v4.5h-23zM224 317h23v2h-23zM224 320.5h23v1.5h-23zM224 322h23v5h-23zM224 334h23v7h-23zM224 343.5h23v1.5h-23zM224 359.5h23v1.5h-23zM224 372h23v1h-23zM224 380h23v1h-23zM224 388h23v1.5h-23zM224 392h23v1h-23zM224 398h23v2h-23zM224 402h23v1h-23zM224 411h23v2h-23zM224 417h23v2h-23zM224 421h23v2h-23zM224 430h23v2h-23zM224 461.5h23v24.5h-23zM224 487h23v11h-23zM224 500.5h23v1.5h-23zM224 508h23v1h-23zM224 512h23v1h-23zM224 515h23v1h-23zM224 526h23v2h-23zM224 530h23v2h-23zM224 533.5h23v1.5h-23zM224 541h23v1h-23zM224 549h23v1h-23zM224 556h23v2h-23zM224 562h23v1h-23zM224 567.5h23v2.5h-23zM224 575.5h23v1.5h-23zM224 582.5h23v1h-23zM224 597h23v3h-23zM224 603h23v2h-23zM224 609h23v1h-23zM224 621h23v1.5h-23zM224 625h23v1h-23zM224 628h23v1h-23zM224 638h23v2h-23zM224 650h23v1h-23zM224 663h23v2h-23zM224 668h23v2h-23zM224 690h23v2h-23zM224 694h23v2h-23zM224 713h23v1.5h-23zM224 719h23v1.5h-23zM224 728h23v2h-23zM224 733h23v2h-23zM224 739h23v2h-23z"/>
<path fill="#ffffff" d="M280 99h23v0.8h-23zM280 100.5h23v2.5h-23zM280 107.8h23v1h-23zM280 112h23v1.3h-23zM280 146h23v2.2h-23zM280 183.6h23v1.3h-23zM280 186.7h23v1.3h-23zM280 189.9h23v1.2h-23zM280 193h23v1.2h-23zM280 218.4h23v1.2h-23zM280 237h23v1.2h-23zM280 240.7h23v1.3h-23zM280 270h23v2h-23zM280 277h23v1h-23zM280 312h23v1h-23zM280 327h23v1.5h-23zM280 329.5h23v1h-23zM280 340.5h23v0.5h-23zM280 343h23v0.5h-23zM280 349h23v1h-23zM280 355h23v2h-23zM280 368h23v2h-23zM280 372.5h23v0.5h-23zM280 381h23v2.5h-23zM280 392h23v1h-23zM280 423h23v1h-23zM280 426h23v1h-23zM280 486h23v1h-23zM280 500.5h23v1h-23zM280 503h23v1.5h-23zM280 513.5h23v1.5h-23zM280 525h23v2h-23zM280 531h23v1.5h-23zM280 533.5h23v0.5h-23zM280 535h23v2h-23zM280 543h23v5h-23zM280 575h23v2h-23zM280 605h23v1h-23zM280 607h23v1h-23zM280 617h23v1h-23zM280 631h23v1h-23zM280 648h23v2h-23zM280 667h23v2h-23zM280 684h23v4h-23zM280 694h23v2h-23zM280 719h23v2h-23zM280 731h23v2h-23zM280 741h23v2h-23z"/>
<path fill="#b4c8f4" d="M280 99.8h23v0.7h-23zM280 606h23v1h-23z"/>
<path fill="#ff1493" d="M280 103h23v2.1h-23zM280 105.9h23v1.9h-23zM280 108.8h23v3.2h-23zM280 120h23v2.7h-23zM280 122.7h23v2.6h-23zM280 134.9h23v1.1h-23zM280 148.2h23v1.1h-23zM280 149.3h23v1h-23zM280 157.8h23v2.1h-23zM280 184.9h23v1.8h-23zM280 194.2h23v1.8h-23zM280 221.9h23v6.4h-23zM280 238.2h23v2.5h-23zM280 248.8h23v8.7h-23zM280 265h23v2h-23zM280 294h23v2h-23zM280 322h23v1h-23zM280 328.5h23v1h-23zM280 330.5h23v1h-23zM280 341h23v2h-23zM280 343.5h23v3h-23zM280 352h23v1.5h-23zM280 357h23v2h-23zM280 360h23v3h-23zM280 366h23v2h-23zM280 373h23v4h-23zM280 385.5h23v1.5h-23zM280 388.5h23v1.5h-23zM280 399h23v1h-23zM280 403h23v1h-23zM280 406h23v1h-23zM280 420h23v3h-23zM280 424h23v1h-23zM280 427h23v3h-23zM280 508.5h23v0.5h-23zM280 515h23v1h-23zM280 521h23v1h-23zM280 537h23v2h-23zM280 540h23v2h-23zM280 548h23v4h-23zM280 553h23v2h-23zM280 557h23v2h-23zM280 560h23v2h-23zM280 563h23v2h-23zM280 566h23v1h-23zM280 570h23v1h-23zM280 573h23v2h-23zM280 577h23v1h-23zM280 583h23v4h-23zM280 593h23v1h-23zM280 595h23v1h-23zM280 601h23v1h-23zM280 604h23v1h-23zM280 610h23v3h-23zM280 614h23v3h-23zM280 620h23v2h-23zM280 623h23v2h-23zM280 627h23v4h-23zM280 632h23v5h-23zM280 639h23v6h-23zM280 650h23v5h-23zM280 656h23v1h-23zM280 658h23v2h-23zM280 663h23v2h-23zM280 669h23v7h-23zM280 678h23v6h-23zM280 703h23v3h-23zM280 708h23v2h-23zM280 712h23v3h-23zM280 721h23v10h-23zM280 733h23v3h-23zM280 738h23v3h-23z"/>
<path fill="#ff8cc6" d="M280 105.1h23v0.8h-23zM280 118.4h23v1.6h-23zM280 230.8h23v1.9h-23zM280 331.5h23v1.5h-23zM280 359h23v1h-23zM280 363h23v1.5h-23zM280 393h23v2h-23zM280 425h23v1h-23zM280 430h23v3h-23zM280 618h23v2h-23zM280 701h23v2h-23zM280 706h23v2h-23zM280 710h23v2h-23zM280 717h23v2h-23zM280 743h23v3h-23z"/>
<path fill="#9ef0c4" d="M280 113.3h23v1.4h-23zM280 126.9h23v2.1h-23zM280 178.7h23v2.5h-23zM280 191.1h23v1.9h-23zM280 232.7h23v4.3h-23zM280 275h23v2h-23zM280 278h23v2h-23zM280 310h23v2h-23zM280 313h23v3h-23z"/>
<path fill="#a08a9c" d="M280 114.7h23v1h-23zM280 115.7h23v2.7h-23zM280 125.3h23v1.6h-23zM280 129h23v1.6h-23zM280 142.3h23v2.2h-23zM280 144.5h23v1.5h-23zM280 150.3h23v1.6h-23zM280 151.9h23v1.6h-23zM280 163.1h23v1h-23zM280 166.3h23v2.6h-23zM280 188h23v1.9h-23zM280 196h23v1.9h-23zM280 206h23v1.2h-23zM280 209.7h23v1.9h-23zM280 242h23v1.2h-23zM280 257.5h23v2.5h-23zM280 267h23v3h-23zM280 303h23v3h-23zM280 316h23v4h-23zM280 353.5h23v1.5h-23zM280 383.5h23v2h-23zM280 402h23v1h-23zM280 413h23v3h-23zM280 552h23v1h-23zM280 559h23v1h-23zM280 562h23v1h-23zM280 565h23v1h-23zM280 567h23v1h-23zM280 572h23v1h-23zM280 578h23v2h-23zM280 581h23v2h-23zM280 602h23v1h-23zM280 613h23v1h-23zM280 622h23v1h-23zM280 637h23v2h-23zM280 655h23v1h-23zM280 657h23v1h-23zM280 665h23v2h-23zM280 676h23v2h-23zM280 688h23v2h-23z"/>
<path fill="#3cec8c" d="M280 130.6h23v4.3h-23zM280 136h23v6.3h-23zM280 153.5h23v1.1h-23zM280 154.6h23v3.2h-23zM280 159.9h23v3.2h-23zM280 170.5h23v1.3h-23zM280 197.9h23v1.3h-23zM280 202.5h23v1.6h-23zM280 207.2h23v2.5h-23zM280 211.6h23v1.8h-23zM280 216.2h23v2.2h-23zM280 219.6h23v2.3h-23zM280 243.2h23v5.6h-23zM280 262h23v3h-23zM280 272h23v3h-23zM280 280h23v4h-23zM280 289h23v5h-23zM280 296h23v7h-23zM280 306h23v4h-23zM280 320h23v2h-23zM280 323h23v4h-23zM280 387h23v1.5h-23zM280 398h23v1h-23zM280 405h23v1h-23zM280 407h23v1h-23zM280 409h23v4h-23zM280 416h23v4h-23zM280 498h23v2.5h-23zM280 501.5h23v1.5h-23zM280 529h23v2h-23zM280 532.5h23v1h-23zM280 534h23v1h-23zM280 568h23v2h-23zM280 571h23v1h-23zM280 580h23v1h-23zM280 594h23v1h-23zM280 597h23v4h-23zM280 603h23v1h-23zM280 608h23v2h-23zM280 625h23v2h-23zM280 645h23v3h-23zM280 690h23v2h-23zM280 715h23v2h-23zM280 736h23v2h-23z"/>
<path fill="#5ab4c4" d="M280 164.1h23v2.2h-23zM280 181.2h23v2.4h-23zM280 214.9h23v1.3h-23zM280 284h23v3h-23zM280 527h23v2h-23zM280 692h23v2h-23z"/>
<path fill="#d83c9c" d="M280 168.9h23v1.6h-23zM280 171.8h23v1.3h-23zM280 176.2h23v2.5h-23zM280 204.1h23v1.9h-23zM280 228.3h23v2.5h-23zM280 260h23v2h-23zM280 408h23v1h-23zM280 539h23v1h-23zM280 542h23v1h-23zM280 596h23v1h-23zM280 696h23v5h-23z"/>
<path fill="#a455c4" d="M280 173.1h23v3.1h-23zM280 201h23v1.5h-23zM280 213.4h23v1.5h-23zM280 287h23v2h-23zM280 370h23v2.5h-23zM280 377h23v4h-23zM280 401h23v1h-23zM280 404h23v1h-23z"/>
<path fill="#6495ed" d="M280 199.2h23v1.8h-23zM280 395h23v3h-23zM280 400h23v1h-23zM280 504.5h23v4h-23zM280 509h23v4.5h-23zM280 516h23v5h-23zM280 522h23v3h-23zM280 555h23v2h-23zM280 660h23v3h-23zM308 327h18.62v4.5h-18.62zM308 333h18.62v9.5h-18.62zM308 347h18.62v1h-18.62zM308 349.5h18.62v3.5h-18.62zM308 356h18.62v7h-18.62zM308 365h18.62v2h-18.62zM308 370h18.62v1.5h-18.62zM308 388h18.62v3h-18.62zM308 398h18.62v1h-18.62zM308 399h18.62v1h-18.62zM308 401h18.62v1h-18.62zM308 402h18.62v1h-18.62zM308 403h18.62v2h-18.62zM308 407h18.62v1h-18.62zM308 408h18.62v1h-18.62zM308 410h18.62v1h-18.62zM308 411h18.62v1h-18.62zM308 416h18.62v2h-18.62zM308 418h18.62v3h-18.62zM308 422h18.62v1h-18.62zM308 424.5h18.62v3h-18.62zM308 427.5h18.62v1h-18.62zM308 428.5h18.62v2h-18.62zM308 430.5h18.62v2h-18.62zM308 432.5h18.62v3h-18.62zM308 436.5h18.62v0.5h-18.62zM308 437h18.62v60.6h-18.62zM308 548h18.62v54h-18.62zM308 603h18.62v51h-18.62zM308 655h18.62v62.5h-18.62zM308 718.5h18.62v27.5h-18.62zM326.62 100.8h18.62v3h-18.62zM326.62 105h18.62v1h-18.62zM326.62 109h18.62v3.5h-18.62zM326.62 114.5h18.62v3h-18.62zM326.62 117.6h18.62v1.4h-18.62zM326.62 120h18.62v5.6h-18.62zM326.62 127.8h18.62v3.7h-18.62zM326.62 133.2h18.62v4.8h-18.62zM326.62 139.5h18.62v3.4h-18.62zM326.62 145.4h18.62v4.3h-18.62zM326.62 152.7h18.62v5.1h-18.62zM326.62 159.2h18.62v2.2h-18.62zM326.62 163.6h18.62v1.4h-18.62zM326.62 182h18.62v2.5h-18.62zM326.62 190h18.62v1.5h-18.62zM326.62 195h18.62v2h-18.62zM326.62 198h18.62v2h-18.62zM326.62 201.5h18.62v1h-18.62zM326.62 205.5h18.62v1.5h-18.62zM326.62 208.5h18.62v19.5h-18.62zM326.62 229h18.62v7h-18.62zM326.62 238.5h18.62v8.8h-18.62zM326.62 248.8h18.62v2.2h-18.62zM326.62 260.5h18.62v3.5h-18.62zM326.62 265.5h18.62v3h-18.62zM326.62 270h18.62v2h-18.62zM326.62 275h18.62v3h-18.62zM326.62 280h18.62v2.3h-18.62zM326.62 283.8h18.62v2.9h-18.62zM326.62 292.5h18.62v2.2h-18.62zM326.62 297.7h18.62v5.8h-18.62zM326.62 327h18.62v3h-18.62zM326.62 331h18.62v14.5h-18.62zM326.62 346.5h18.62v4.5h-18.62zM326.62 352h18.62v2.5h-18.62zM326.62 355.5h18.62v13.5h-18.62zM326.62 370h18.62v2.5h-18.62zM326.62 372.5h18.62v1h-18.62zM326.62 375h18.62v1h-18.62zM326.62 380h18.62v6h-18.62zM326.62 388h18.62v3h-18.62zM326.62 392h18.62v3h-18.62zM326.62 402h18.62v3h-18.62zM326.62 405h18.62v1h-18.62zM326.62 407h18.62v1h-18.62zM326.62 408h18.62v3h-18.62zM326.62 411h18.62v3h-18.62zM326.62 419h18.62v1h-18.62zM326.62 420h18.62v1h-18.62zM326.62 421h18.62v1h-18.62zM326.62 422h18.62v1h-18.62zM326.62 423h18.62v2h-18.62zM326.62 427h18.62v1h-18.62zM326.62 428h18.62v2h-18.62zM326.62 430h18.62v2h-18.62zM326.62 432h18.62v2h-18.62zM326.62 435h18.62v1h-18.62zM326.62 436h18.62v1h-18.62zM326.62 437h18.62v66h-18.62zM326.62 503h18.62v1h-18.62zM326.62 504h18.62v2h-18.62zM326.62 508h18.62v2h-18.62zM326.62 511h18.62v3h-18.62zM326.62 514h18.62v1.5h-18.62zM326.62 519.5h18.62v1h-18.62zM326.62 520.5h18.62v2h-18.62zM326.62 526.5h18.62v1h-18.62zM326.62 530.5h18.62v1h-18.62zM326.62 531.5h18.62v3h-18.62zM326.62 535.5h18.62v3h-18.62zM326.62 538.5h18.62v2h-18.62zM326.62 542.5h18.62v1h-18.62zM326.62 543.5h18.62v3h-18.62zM326.62 546.5h18.62v1h-18.62zM326.62 547.5h18.62v1h-18.62zM326.62 551.5h18.62v1h-18.62zM326.62 552.5h18.62v1h-18.62zM326.62 553.5h18.62v2h-18.62zM326.62 555.5h18.62v2h-18.62zM326.62 558.5h18.62v1h-18.62zM326.62 565.5h18.62v1h-18.62zM326.62 566.5h18.62v1h-18.62zM326.62 567.5h18.62v1h-18.62zM326.62 569.5h18.62v0.5h-18.62zM326.62 577h18.62v1h-18.62zM326.62 580h18.62v1h-18.62zM326.62 585h18.62v1h-18.62zM326.62 586h18.62v1.5h-18.62zM326.62 587.5h18.62v1h-18.62zM326.62 589.5h18.62v3h-18.62zM326.62 593.5h18.62v3h-18.62zM326.62 600h18.62v1h-18.62zM326.62 601h18.62v2h-18.62zM326.62 603h18.62v1h-18.62zM326.62 606h18.62v2h-18.62zM326.62 609h18.62v1h-18.62zM326.62 610h18.62v3h-18.62zM326.62 613h18.62v1h-18.62zM326.62 616h18.62v2h-18.62zM326.62 618h18.62v2h-18.62zM326.62 620h18.62v2h-18.62zM326.62 622h18.62v3h-18.62zM326.62 625h18.62v1h-18.62zM326.62 626h18.62v1.5h-18.62zM326.62 627.5h18.62v1h-18.62zM326.62 629.5h18.62v1.5h-18.62zM326.62 631h18.62v1h-18.62zM326.62 633h18.62v1.5h-18.62zM326.62 638.5h18.62v1h-18.62zM326.62 647.5h18.62v1.5h-18.62zM326.62 650h18.62v1h-18.62zM326.62 651h18.62v1h-18.62zM326.62 654h18.62v1h-18.62zM326.62 661h18.62v1h-18.62zM326.62 664h18.62v1h-18.62zM326.62 665h18.62v1.5h-18.62zM326.62 666.5h18.62v1h-18.62zM326.62 671h18.62v1h-18.62zM326.62 672h18.62v1h-18.62zM326.62 673h18.62v1h-18.62zM326.62 676h18.62v1h-18.62zM326.62 677h18.62v1.5h-18.62zM326.62 678.5h18.62v1h-18.62zM326.62 679.5h18.62v2h-18.62zM326.62 681.5h18.62v1.5h-18.62zM326.62 683h18.62v1h-18.62zM326.62 684h18.62v1h-18.62zM326.62 685h18.62v1h-18.62zM326.62 686h18.62v1h-18.62zM326.62 687h18.62v1.5h-18.62zM326.62 688.5h18.62v1h-18.62zM326.62 692.5h18.62v3h-18.62zM326.62 695.5h18.62v1h-18.62zM326.62 700.5h18.62v1h-18.62zM326.62 701.5h18.62v1h-18.62zM326.62 707.5h18.62v1h-18.62zM326.62 708.5h18.62v1h-18.62zM326.62 711.5h18.62v3h-18.62zM326.62 715.5h18.62v1h-18.62zM326.62 716.5h18.62v3h-18.62zM326.62 719.5h18.62v2h-18.62zM326.62 723h18.62v1h-18.62zM326.62 724h18.62v1h-18.62zM326.62 726.5h18.62v3h-18.62zM326.62 732h18.62v1.5h-18.62zM326.62 736.5h18.62v1h-18.62zM326.62 738.5h18.62v3h-18.62zM326.62 744.5h18.62v1h-18.62zM326.62 745.5h18.62v0.5h-18.62zM345.24 101h18.62v4h-18.62zM345.24 105.5h18.62v276.5h-18.62zM345.24 383.5h18.62v3.5h-18.62zM345.24 388.5h18.62v11.5h-18.62zM345.24 403h18.62v1h-18.62zM345.24 404h18.62v3h-18.62zM345.24 407h18.62v1h-18.62zM345.24 408h18.62v3h-18.62zM345.24 411h18.62v2h-18.62zM345.24 413h18.62v1h-18.62zM345.24 414h18.62v2h-18.62zM345.24 416h18.62v2h-18.62zM345.24 418h18.62v2h-18.62zM345.24 422h18.62v2h-18.62zM345.24 428h18.62v1h-18.62zM345.24 429h18.62v1h-18.62zM345.24 430h18.62v1.5h-18.62zM345.24 431.5h18.62v1h-18.62zM345.24 432.5h18.62v1.5h-18.62zM345.24 434h18.62v2h-18.62zM345.24 436h18.62v1h-18.62zM345.24 437h18.62v60.6h-18.62zM345.24 511.2h18.62v1h-18.62zM345.24 516h18.62v1h-18.62zM345.24 518h18.62v8.5h-18.62zM363.86 346h18.62v1.5h-18.62zM363.86 364h18.62v1h-18.62zM363.86 368h18.62v1.5h-18.62zM363.86 373h18.62v3h-18.62zM363.86 380h18.62v2h-18.62zM363.86 388.5h18.62v1.5h-18.62zM363.86 394.5h18.62v0.5h-18.62zM363.86 395h18.62v3h-18.62zM363.86 400h18.62v2h-18.62zM363.86 402h18.62v1.5h-18.62zM363.86 415h18.62v1h-18.62zM363.86 416h18.62v1h-18.62zM363.86 417h18.62v2h-18.62zM363.86 420h18.62v2h-18.62zM363.86 422h18.62v1h-18.62zM363.86 425h18.62v2h-18.62zM363.86 427h18.62v1h-18.62zM363.86 428h18.62v1h-18.62zM363.86 432h18.62v1h-18.62zM363.86 437h18.62v24h-18.62zM363.86 461h18.62v1h-18.62zM363.86 465h18.62v1h-18.62zM363.86 467h18.62v3h-18.62zM363.86 470h18.62v1h-18.62zM363.86 471h18.62v1h-18.62zM363.86 476h18.62v1h-18.62zM363.86 477h18.62v1h-18.62zM363.86 486.5h18.62v1.5h-18.62zM363.86 488h18.62v1h-18.62zM363.86 489h18.62v2h-18.62zM363.86 491h18.62v2h-18.62zM363.86 495h18.62v2.6h-18.62zM363.86 571.7h18.62v10.3h-18.62zM363.86 586.3h18.62v1h-18.62zM363.86 587.3h18.62v2h-18.62zM363.86 589.3h18.62v1h-18.62zM363.86 590.3h18.62v2h-18.62zM363.86 592.3h18.62v2h-18.62zM363.86 594.3h18.62v1.5h-18.62zM363.86 595.8h18.62v1h-18.62zM363.86 596.8h18.62v1h-18.62zM363.86 597.8h18.62v1h-18.62zM363.86 598.8h18.62v1h-18.62zM363.86 599.8h18.62v1.5h-18.62zM363.86 601.3h18.62v3h-18.62zM363.86 604.3h18.62v1h-18.62zM363.86 606.3h18.62v2h-18.62zM363.86 609.3h18.62v1h-18.62zM363.86 610.3h18.62v1h-18.62zM363.86 611.3h18.62v2h-18.62zM363.86 614.3h18.62v1h-18.62zM363.86 615.3h18.62v3h-18.62zM363.86 620.3h18.62v3h-18.62zM363.86 623.3h18.62v1h-18.62zM363.86 624.3h18.62v1h-18.62zM363.86 625.3h18.62v0.7h-18.62zM363.86 629.5h18.62v5.8h-18.62zM363.86 637.4h18.62v2.9h-18.62zM363.86 644.7h18.62v3.8h-18.62zM363.86 652.8h18.62v5h-18.62zM363.86 660.7h18.62v1h-18.62zM363.86 663.2h18.62v1h-18.62zM363.86 664.2h18.62v1h-18.62zM363.86 665.2h18.62v3h-18.62zM363.86 668.2h18.62v1.3h-18.62zM363.86 679.7h18.62v3h-18.62zM363.86 682.7h18.62v2h-18.62zM363.86 684.7h18.62v2h-18.62zM363.86 686.7h18.62v1h-18.62zM363.86 687.7h18.62v1h-18.62zM363.86 689.7h18.62v1.5h-18.62zM363.86 691.2h18.62v1h-18.62zM363.86 694.2h18.62v0.1h-18.62zM363.86 700h18.62v3h-18.62zM363.86 713.3h18.62v1h-18.62zM363.86 719.8h18.62v1.5h-18.62zM363.86 721.3h18.62v1h-18.62zM363.86 724.3h18.62v0.7h-18.62zM363.86 732.8h18.62v2h-18.62zM363.86 734.8h18.62v1h-18.62zM363.86 735.8h18.62v1h-18.62zM363.86 736.8h18.62v2h-18.62zM363.86 738.8h18.62v2h-18.62zM363.86 740.8h18.62v1h-18.62zM363.86 741.8h18.62v1h-18.62zM363.86 742.8h18.62v1.2h-18.62zM382.48 327h18.62v15.5h-18.62zM382.48 345h18.62v18h-18.62zM382.48 365h18.62v2.5h-18.62zM382.48 388h18.62v2.5h-18.62zM401.1 100h18.62v39h-18.62zM401.1 140h18.62v139h-18.62zM401.1 280h18.62v217.6h-18.62zM401.1 535h18.62v9h-18.62zM401.1 544h18.62v3h-18.62zM401.1 547h18.62v1h-18.62zM401.1 550h18.62v1.5h-18.62zM401.1 551.5h18.62v2h-18.62zM401.1 553.5h18.62v1.5h-18.62zM401.1 555h18.62v1h-18.62zM401.1 556h18.62v1h-18.62zM401.1 557h18.62v1h-18.62zM401.1 558h18.62v2h-18.62zM401.1 560h18.62v1h-18.62zM401.1 571h18.62v1.5h-18.62zM401.1 572.5h18.62v1h-18.62zM401.1 574.5h18.62v1h-18.62zM401.1 577h18.62v1h-18.62zM401.1 578h18.62v2h-18.62zM401.1 580h18.62v2h-18.62zM401.1 582h18.62v1h-18.62zM401.1 583h18.62v1.5h-18.62zM401.1 587.5h18.62v1.5h-18.62zM401.1 590h18.62v1h-18.62zM401.1 594h18.62v1.5h-18.62zM401.1 597h18.62v1h-18.62zM401.1 598h18.62v2h-18.62zM401.1 603h18.62v2h-18.62zM401.1 605h18.62v1h-18.62zM401.1 606h18.62v1h-18.62zM401.1 607h18.62v1h-18.62zM401.1 608h18.62v2h-18.62zM401.1 610h18.62v1h-18.62zM401.1 611h18.62v1h-18.62zM401.1 612h18.62v2h-18.62zM401.1 616h18.62v2h-18.62zM401.1 622h18.62v1h-18.62zM401.1 629h18.62v3h-18.62zM401.1 632h18.62v1h-18.62zM401.1 633h18.62v1h-18.62zM401.1 634h18.62v1h-18.62zM401.1 635h18.62v1h-18.62zM401.1 637h18.62v2h-18.62zM401.1 640.5h18.62v1h-18.62zM401.1 641.5h18.62v2h-18.62zM401.1 643.5h18.62v3h-18.62zM401.1 647.5h18.62v1h-18.62zM401.1 651.5h18.62v2h-18.62zM401.1 653.5h18.62v1h-18.62zM401.1 654.5h18.62v2h-18.62zM401.1 656.5h18.62v3h-18.62zM401.1 659.5h18.62v1h-18.62zM401.1 660.5h18.62v1h-18.62zM401.1 664.5h18.62v1h-18.62zM401.1 666.5h18.62v1h-18.62zM401.1 667.5h18.62v3h-18.62zM401.1 671.5h18.62v1h-18.62zM401.1 676.5h18.62v3h-18.62zM401.1 679.5h18.62v3h-18.62zM401.1 684h18.62v2h-18.62zM401.1 686h18.62v1h-18.62zM401.1 690.5h18.62v3h-18.62zM401.1 693.5h18.62v1h-18.62zM401.1 698.5h18.62v2h-18.62zM401.1 700.5h18.62v1h-18.62zM401.1 706h18.62v1h-18.62zM401.1 707h18.62v2h-18.62zM401.1 712h18.62v1h-18.62zM401.1 713h18.62v2h-18.62zM401.1 715h18.62v2h-18.62zM401.1 717h18.62v2h-18.62zM401.1 719h18.62v1h-18.62zM401.1 720h18.62v3h-18.62zM401.1 724h18.62v1h-18.62zM401.1 726h18.62v1.5h-18.62zM401.1 729h18.62v2h-18.62zM401.1 734h18.62v3h-18.62zM401.1 737h18.62v1h-18.62zM401.1 738h18.62v1h-18.62zM401.1 739h18.62v1h-18.62zM401.1 740h18.62v1h-18.62zM401.1 741h18.62v1h-18.62zM401.1 742h18.62v1h-18.62zM401.1 745h18.62v1h-18.62zM419.72 99h18.62v0.7h-18.62zM419.72 100.8h18.62v5.2h-18.62zM419.72 107.4h18.62v1.6h-18.62zM419.72 109.6h18.62v7.4h-18.62zM419.72 118h18.62v12.8h-18.62zM419.72 131.5h18.62v8.8h-18.62zM419.72 141h18.62v11.5h-18.62zM419.72 153.5h18.62v3h-18.62zM419.72 158h18.62v1h-18.62zM419.72 159.5h18.62v2h-18.62zM419.72 162.5h18.62v4h-18.62zM419.72 168h18.62v2h-18.62zM419.72 171h18.62v4h-18.62zM419.72 181h18.62v3h-18.62zM419.72 184h18.62v1h-18.62zM419.72 185h18.62v1h-18.62zM419.72 187.5h18.62v2h-18.62zM419.72 189.5h18.62v1.5h-18.62zM419.72 191h18.62v1h-18.62zM419.72 192h18.62v1h-18.62zM419.72 195h18.62v2h-18.62zM419.72 197h18.62v1h-18.62zM419.72 198h18.62v3h-18.62zM419.72 202h18.62v1h-18.62zM419.72 204.5h18.62v1h-18.62zM419.72 205.5h18.62v1h-18.62zM419.72 206.5h18.62v1h-18.62zM419.72 207.5h18.62v0.5h-18.62zM419.72 208h18.62v1h-18.62zM419.72 209h18.62v1h-18.62zM419.72 210h18.62v1h-18.62zM419.72 211h18.62v1h-18.62zM419.72 212h18.62v2h-18.62zM419.72 214h18.62v1h-18.62zM419.72 215h18.62v2h-18.62zM419.72 217h18.62v1h-18.62zM419.72 218h18.62v1h-18.62zM419.72 219h18.62v1h-18.62zM419.72 220h18.62v1.5h-18.62zM419.72 221.5h18.62v1h-18.62zM419.72 222.5h18.62v1h-18.62zM419.72 223.5h18.62v2h-18.62zM419.72 225.5h18.62v1h-18.62zM419.72 226.5h18.62v1.5h-18.62zM419.72 230h18.62v3h-18.62zM419.72 233h18.62v1h-18.62zM419.72 234h18.62v1h-18.62zM419.72 235h18.62v1h-18.62zM419.72 236h18.62v1h-18.62zM419.72 237h18.62v1h-18.62zM419.72 238h18.62v1h-18.62zM419.72 239h18.62v1.5h-18.62zM419.72 240.5h18.62v1h-18.62zM419.72 241.5h18.62v1.5h-18.62zM419.72 243h18.62v1h-18.62zM419.72 244h18.62v3h-18.62zM419.72 248h18.62v1.5h-18.62zM419.72 249.5h18.62v1h-18.62zM419.72 251.5h18.62v1h-18.62zM419.72 252.5h18.62v1h-18.62zM419.72 253.5h18.62v1h-18.62zM419.72 254.5h18.62v2h-18.62zM419.72 256.5h18.62v2h-18.62zM419.72 258.5h18.62v0.5h-18.62zM419.72 259h18.62v1h-18.62zM419.72 260h18.62v1.5h-18.62zM419.72 261.5h18.62v1h-18.62zM419.72 263.5h18.62v1h-18.62zM419.72 269.5h18.62v1h-18.62zM419.72 275h18.62v1h-18.62zM419.72 279h18.62v1h-18.62zM419.72 280h18.62v1h-18.62zM419.72 281h18.62v1h-18.62zM419.72 282h18.62v1h-18.62zM419.72 284h18.62v1.5h-18.62zM419.72 285.5h18.62v1h-18.62zM419.72 286.5h18.62v1h-18.62zM419.72 287.5h18.62v2h-18.62zM419.72 289.5h18.62v1h-18.62zM419.72 292.5h18.62v1.5h-18.62zM419.72 294h18.62v1h-18.62zM419.72 295h18.62v2h-18.62zM419.72 301h18.62v3h-18.62zM419.72 305.5h18.62v2h-18.62zM419.72 313h18.62v1h-18.62zM419.72 317h18.62v1.5h-18.62zM419.72 318.5h18.62v1h-18.62zM419.72 319.5h18.62v1h-18.62zM419.72 321.5h18.62v1h-18.62zM419.72 322.5h18.62v1h-18.62zM419.72 323.5h18.62v2h-18.62zM419.72 325.5h18.62v1.5h-18.62zM419.72 327h18.62v3h-18.62zM419.72 330h18.62v1h-18.62zM419.72 331h18.62v1h-18.62zM419.72 332h18.62v2h-18.62zM419.72 334h18.62v1.5h-18.62zM419.72 335.5h18.62v2h-18.62zM419.72 337.5h18.62v1h-18.62zM419.72 338.5h18.62v2h-18.62zM419.72 340.5h18.62v2h-18.62zM419.72 342.5h18.62v1h-18.62zM419.72 346.5h18.62v3h-18.62zM419.72 350.5h18.62v1h-18.62zM419.72 352.5h18.62v2h-18.62zM419.72 354.5h18.62v1.5h-18.62zM419.72 356h18.62v1h-18.62zM419.72 357h18.62v3h-18.62zM419.72 360h18.62v1h-18.62zM419.72 361h18.62v2h-18.62zM419.72 363h18.62v2h-18.62zM419.72 365h18.62v3h-18.62zM419.72 368h18.62v1.5h-18.62zM419.72 369.5h18.62v1.5h-18.62zM419.72 371h18.62v3h-18.62zM419.72 374h18.62v1h-18.62zM419.72 375h18.62v2h-18.62zM419.72 380.5h18.62v2h-18.62zM419.72 382.5h18.62v1h-18.62zM419.72 384.5h18.62v1.5h-18.62zM419.72 387h18.62v3h-18.62zM419.72 390h18.62v1h-18.62zM419.72 393h18.62v1h-18.62zM419.72 394h18.62v1.5h-18.62zM419.72 395.5h18.62v1h-18.62zM419.72 396.5h18.62v3h-18.62zM419.72 399.5h18.62v0.5h-18.62zM419.72 400h18.62v1.5h-18.62zM419.72 401.5h18.62v1h-18.62zM419.72 402.5h18.62v1h-18.62zM419.72 404.5h18.62v1h-18.62zM419.72 405.5h18.62v1h-18.62zM419.72 406.5h18.62v2h-18.62zM419.72 411.5h18.62v2h-18.62zM419.72 413.5h18.62v1h-18.62zM419.72 419.5h18.62v3h-18.62zM419.72 422.5h18.62v1h-18.62zM419.72 425.5h18.62v2h-18.62zM419.72 427.5h18.62v1h-18.62zM419.72 428.5h18.62v2h-18.62zM419.72 431.5h18.62v3h-18.62zM419.72 437h18.62v60.6h-18.62zM419.72 497.6h18.62v2h-18.62zM419.72 499.6h18.62v1.5h-18.62zM419.72 501.1h18.62v1h-18.62zM419.72 502.1h18.62v1h-18.62zM419.72 503.1h18.62v2h-18.62zM419.72 505.1h18.62v1h-18.62zM419.72 506.1h18.62v1h-18.62zM419.72 508.1h18.62v1h-18.62zM419.72 509.1h18.62v2h-18.62zM419.72 511.1h18.62v1h-18.62zM419.72 512.1h18.62v3h-18.62zM419.72 515.1h18.62v1h-18.62zM419.72 520.1h18.62v1.5h-18.62zM419.72 523.1h18.62v1h-18.62zM419.72 524.1h18.62v2h-18.62zM419.72 526.1h18.62v1h-18.62zM419.72 528.1h18.62v2h-18.62zM419.72 530.1h18.62v2h-18.62zM419.72 532.1h18.62v1h-18.62zM419.72 533.1h18.62v1h-18.62zM419.72 534.1h18.62v2h-18.62zM419.72 536.1h18.62v1h-18.62zM419.72 538.1h18.62v2h-18.62zM419.72 542.1h18.62v1h-18.62zM419.72 543.1h18.62v1h-18.62zM419.72 545.1h18.62v1h-18.62zM419.72 546.1h18.62v1h-18.62zM419.72 547.1h18.62v3h-18.62zM419.72 551.6h18.62v1h-18.62zM419.72 553.6h18.62v1h-18.62zM419.72 554.6h18.62v1.5h-18.62zM419.72 557.1h18.62v1h-18.62zM419.72 558.1h18.62v3h-18.62zM419.72 561.1h18.62v1h-18.62zM419.72 562.1h18.62v1h-18.62zM419.72 563.1h18.62v1h-18.62zM419.72 564.1h18.62v2h-18.62zM419.72 569.1h18.62v0.9h-18.62zM419.72 570h18.62v1h-18.62zM419.72 574h18.62v1.5h-18.62zM419.72 575.5h18.62v1h-18.62zM419.72 576.5h18.62v2h-18.62zM419.72 579.5h18.62v1h-18.62zM419.72 580.5h18.62v1.5h-18.62zM419.72 582h18.62v1h-18.62zM419.72 584h18.62v1h-18.62zM419.72 585h18.62v3h-18.62zM419.72 588h18.62v1h-18.62zM419.72 592h18.62v1h-18.62zM419.72 596h18.62v1h-18.62zM419.72 600.5h18.62v3h-18.62zM419.72 603.5h18.62v1h-18.62zM419.72 604.5h18.62v1h-18.62zM419.72 605.5h18.62v1.5h-18.62zM419.72 607h18.62v2h-18.62zM419.72 609h18.62v1h-18.62zM419.72 610h18.62v3h-18.62zM419.72 613h18.62v1h-18.62zM419.72 617h18.62v1h-18.62zM419.72 618h18.62v1h-18.62zM419.72 620h18.62v3h-18.62zM419.72 623h18.62v1h-18.62zM419.72 624h18.62v1.5h-18.62zM419.72 628.5h18.62v1h-18.62zM419.72 629.5h18.62v1h-18.62zM419.72 630.5h18.62v1h-18.62zM419.72 631.5h18.62v1h-18.62zM419.72 636.5h18.62v2h-18.62zM419.72 639.5h18.62v2h-18.62zM419.72 641.5h18.62v1h-18.62zM419.72 645.5h18.62v1h-18.62zM419.72 646.5h18.62v3h-18.62zM419.72 649.5h18.62v1h-18.62zM419.72 651.5h18.62v1.5h-18.62zM419.72 656h18.62v2h-18.62zM419.72 658h18.62v2h-18.62zM419.72 660h18.62v3h-18.62zM419.72 663h18.62v3h-18.62zM419.72 670h18.62v1h-18.62zM419.72 671h18.62v1h-18.62zM419.72 682h18.62v1h-18.62zM419.72 683h18.62v2h-18.62zM419.72 686h18.62v3h-18.62zM419.72 689h18.62v1h-18.62zM419.72 690h18.62v1h-18.62zM419.72 691h18.62v2h-18.62zM419.72 693h18.62v1h-18.62zM419.72 694h18.62v1.5h-18.62zM419.72 695.5h18.62v1h-18.62zM419.72 696.5h18.62v1h-18.62zM419.72 697.5h18.62v3h-18.62zM419.72 700.5h18.62v1h-18.62zM419.72 701.5h18.62v1h-18.62zM419.72 702.5h18.62v1.5h-18.62zM419.72 706.5h18.62v1h-18.62zM419.72 709.5h18.62v1.5h-18.62zM419.72 711h18.62v1h-18.62zM419.72 712h18.62v2h-18.62zM419.72 714h18.62v3h-18.62zM419.72 717h18.62v1.5h-18.62zM419.72 718.5h18.62v2h-18.62zM419.72 720.5h18.62v2h-18.62zM419.72 722.5h18.62v1h-18.62zM419.72 723.5h18.62v1h-18.62zM419.72 729.5h18.62v1h-18.62zM419.72 730.5h18.62v1h-18.62zM419.72 731.5h18.62v1h-18.62zM419.72 734.5h18.62v2h-18.62zM419.72 736.5h18.62v3h-18.62zM419.72 741.5h18.62v1.5h-18.62zM419.72 743h18.62v2h-18.62zM419.72 745h18.62v1h-18.62zM438.34 327h18.62v108h-18.62zM438.34 436h18.62v61.6h-18.62zM456.96 101.6h18.62v0.7h-18.62zM456.96 103h18.62v2h-18.62zM456.96 105h18.62v1h-18.62zM456.96 109.6h18.62v4.4h-18.62zM456.96 117.6h18.62v8.8h-18.62zM456.96 127.8h18.62v2.2h-18.62zM456.96 139.3h18.62v0.7h-18.62zM456.96 142h18.62v1h-18.62zM456.96 143h18.62v1h-18.62zM456.96 144h18.62v1h-18.62zM456.96 145h18.62v1.5h-18.62zM456.96 146.5h18.62v1h-18.62zM456.96 147.5h18.62v1h-18.62zM456.96 151.5h18.62v1h-18.62zM456.96 153.5h18.62v1h-18.62zM456.96 154.5h18.62v1.5h-18.62zM456.96 156h18.62v1h-18.62zM456.96 158h18.62v1h-18.62zM456.96 165h18.62v1h-18.62zM456.96 170h18.62v1h-18.62zM456.96 173h18.62v1h-18.62zM456.96 174h18.62v1h-18.62zM456.96 175h18.62v2h-18.62zM456.96 177h18.62v1h-18.62zM456.96 183h18.62v1h-18.62zM456.96 186.5h18.62v1h-18.62zM456.96 187.5h18.62v1h-18.62zM456.96 188.5h18.62v1.5h-18.62zM456.96 190h18.62v1h-18.62zM456.96 191h18.62v1.5h-18.62zM456.96 192.5h18.62v1h-18.62zM456.96 194.5h18.62v1.5h-18.62zM456.96 200h18.62v2h-18.62zM456.96 202h18.62v2h-18.62zM456.96 205.5h18.62v1.5h-18.62zM456.96 207h18.62v2h-18.62zM456.96 211h18.62v2h-18.62zM456.96 213h18.62v1h-18.62zM456.96 214h18.62v2h-18.62zM456.96 219.5h18.62v1h-18.62zM456.96 220.5h18.62v3h-18.62zM456.96 223.5h18.62v1h-18.62zM456.96 224.5h18.62v1h-18.62zM456.96 225.5h18.62v2h-18.62zM456.96 229.5h18.62v3h-18.62zM456.96 232.5h18.62v1h-18.62zM456.96 233.5h18.62v1h-18.62zM456.96 234.5h18.62v1h-18.62zM456.96 235.5h18.62v1h-18.62zM456.96 241.5h18.62v2h-18.62zM456.96 245.5h18.62v3h-18.62zM456.96 248.5h18.62v1.5h-18.62zM456.96 253.5h18.62v2h-18.62zM456.96 258.5h18.62v1h-18.62zM456.96 259.5h18.62v3h-18.62zM456.96 264h18.62v2h-18.62zM456.96 266h18.62v2h-18.62zM456.96 268h18.62v2h-18.62zM456.96 271h18.62v1h-18.62zM456.96 275h18.62v3h-18.62zM456.96 280h18.62v1h-18.62zM456.96 281h18.62v2h-18.62zM456.96 290h18.62v1h-18.62zM456.96 291h18.62v1h-18.62zM456.96 293h18.62v1h-18.62zM456.96 296h18.62v1h-18.62zM456.96 299.5h18.62v1h-18.62zM456.96 300.5h18.62v1h-18.62zM456.96 301.5h18.62v1h-18.62zM456.96 306.5h18.62v2h-18.62zM456.96 308.5h18.62v1h-18.62zM456.96 309.5h18.62v1h-18.62zM456.96 311.5h18.62v1h-18.62zM456.96 316.5h18.62v1h-18.62zM456.96 317.5h18.62v1h-18.62zM456.96 318.5h18.62v1h-18.62zM456.96 319.5h18.62v1h-18.62zM456.96 320.5h18.62v3h-18.62zM456.96 325h18.62v1h-18.62zM456.96 328h18.62v2h-18.62zM456.96 330h18.62v3h-18.62zM456.96 333h18.62v1h-18.62zM456.96 334h18.62v1h-18.62zM456.96 335h18.62v1h-18.62zM456.96 336h18.62v1.5h-18.62zM456.96 337.5h18.62v2h-18.62zM456.96 339.5h18.62v2h-18.62zM456.96 344.5h18.62v3h-18.62zM456.96 347.5h18.62v1h-18.62zM456.96 350h18.62v1h-18.62zM456.96 351h18.62v1h-18.62zM456.96 353.5h18.62v3h-18.62zM456.96 356.5h18.62v1h-18.62zM456.96 357.5h18.62v2h-18.62zM456.96 359.5h18.62v2h-18.62zM456.96 361.5h18.62v1h-18.62zM456.96 372h18.62v1h-18.62zM456.96 376.5h18.62v1.5h-18.62zM456.96 379h18.62v1h-18.62zM456.96 380h18.62v1h-18.62zM456.96 383h18.62v1h-18.62zM456.96 384h18.62v1.5h-18.62zM456.96 385.5h18.62v1.5h-18.62zM456.96 387h18.62v2h-18.62zM456.96 396h18.62v3h-18.62zM456.96 399h18.62v1h-18.62zM456.96 400h18.62v1h-18.62zM456.96 401h18.62v1h-18.62zM456.96 404h18.62v1.5h-18.62zM456.96 412.5h18.62v1h-18.62zM456.96 421h18.62v1h-18.62zM456.96 422h18.62v1h-18.62zM456.96 423h18.62v2h-18.62zM456.96 430h18.62v1h-18.62zM456.96 431h18.62v1h-18.62zM456.96 432h18.62v1h-18.62zM456.96 433h18.62v1.5h-18.62zM456.96 435.5h18.62v1.5h-18.62zM456.96 462h18.62v35.6h-18.62zM456.96 497.6h18.62v10.4h-18.62zM456.96 509.5h18.62v10.5h-18.62zM456.96 521.5h18.62v1.5h-18.62zM456.96 524h18.62v10.5h-18.62zM456.96 534.5h18.62v1h-18.62zM456.96 535.5h18.62v2h-18.62zM456.96 541h18.62v1h-18.62zM456.96 542h18.62v3h-18.62zM456.96 556h18.62v1h-18.62zM456.96 557h18.62v1.5h-18.62zM456.96 558.5h18.62v3h-18.62zM456.96 563.5h18.62v1h-18.62zM456.96 564.5h18.62v3h-18.62zM456.96 567.5h18.62v2h-18.62zM456.96 569.5h18.62v0.5h-18.62zM456.96 574h18.62v1.5h-18.62zM456.96 578.5h18.62v2h-18.62zM456.96 583h18.62v1h-18.62zM456.96 587h18.62v1h-18.62zM456.96 590.5h18.62v1h-18.62zM456.96 593.5h18.62v1h-18.62zM456.96 596.5h18.62v3h-18.62zM456.96 600.5h18.62v1h-18.62zM456.96 601.5h18.62v1h-18.62zM456.96 607.5h18.62v2h-18.62zM456.96 613.5h18.62v1h-18.62zM456.96 614.5h18.62v1h-18.62zM456.96 625.5h18.62v1h-18.62zM456.96 628.5h18.62v1h-18.62zM456.96 636.5h18.62v2h-18.62zM456.96 638.5h18.62v1h-18.62zM456.96 643.5h18.62v3h-18.62zM456.96 648.5h18.62v3h-18.62zM456.96 652.5h18.62v1h-18.62zM456.96 656.5h18.62v1h-18.62zM456.96 657.5h18.62v1h-18.62zM456.96 658.5h18.62v1h-18.62zM456.96 660.5h18.62v3h-18.62zM456.96 663.5h18.62v1h-18.62zM456.96 666.5h18.62v1h-18.62zM456.96 674.5h18.62v2h-18.62zM456.96 678.5h18.62v1h-18.62zM456.96 680.5h18.62v3h-18.62zM456.96 683.5h18.62v1h-18.62zM456.96 694.5h18.62v1h-18.62zM456.96 697.5h18.62v3h-18.62zM456.96 700.5h18.62v1h-18.62zM456.96 701.5h18.62v1h-18.62zM456.96 706.5h18.62v2h-18.62zM456.96 710.5h18.62v1h-18.62zM456.96 712.5h18.62v1h-18.62zM456.96 713.5h18.62v1.5h-18.62zM456.96 715h18.62v1.5h-18.62zM456.96 718.5h18.62v1h-18.62zM456.96 724h18.62v1h-18.62zM456.96 725h18.62v2h-18.62zM456.96 733h18.62v1h-18.62zM456.96 734h18.62v3h-18.62zM456.96 740h18.62v1.5h-18.62zM456.96 741.5h18.62v2h-18.62zM456.96 744.5h18.62v1h-18.62zM475.58 101.6h18.62v1.4h-18.62zM475.58 104h18.62v393.6h-18.62zM475.58 508h18.62v1h-18.62zM475.58 510h18.62v1h-18.62zM475.58 516h18.62v10.5h-18.62zM475.58 528h18.62v0.5h-18.62zM475.58 535h18.62v1h-18.62zM475.58 540h18.62v2h-18.62zM475.58 542h18.62v1h-18.62zM475.58 545h18.62v1.5h-18.62zM475.58 546.5h18.62v1h-18.62zM475.58 547.5h18.62v1h-18.62zM475.58 548.5h18.62v1h-18.62zM475.58 549.5h18.62v3h-18.62zM475.58 554h18.62v1h-18.62zM475.58 556h18.62v1h-18.62zM475.58 557h18.62v2h-18.62zM475.58 559h18.62v1h-18.62zM475.58 560h18.62v22h-18.62zM475.58 583.5h18.62v23.2h-18.62zM475.58 607.7h18.62v1h-18.62zM475.58 609.7h18.62v2h-18.62zM475.58 615.7h18.62v2h-18.62zM475.58 620.7h18.62v2h-18.62zM475.58 622.7h18.62v0.1h-18.62zM475.58 628.6h18.62v6.7h-18.62zM475.58 640.3h18.62v12.5h-18.62zM475.58 657.8h18.62v17.5h-18.62zM475.58 684.9h18.62v5.1h-18.62zM475.58 694.3h18.62v2h-18.62zM475.58 696.3h18.62v1h-18.62zM475.58 697.3h18.62v1h-18.62zM475.58 698.3h18.62v1h-18.62zM475.58 699.3h18.62v2h-18.62zM475.58 701.3h18.62v1h-18.62zM475.58 702.3h18.62v2h-18.62zM475.58 705.8h18.62v1h-18.62zM475.58 706.8h18.62v1.5h-18.62zM475.58 708.3h18.62v3h-18.62zM475.58 711.3h18.62v2h-18.62zM475.58 713.3h18.62v1.5h-18.62zM475.58 714.8h18.62v1h-18.62zM475.58 715.8h18.62v1h-18.62zM475.58 716.8h18.62v2h-18.62zM475.58 718.8h18.62v0.2h-18.62zM475.58 719h18.62v16h-18.62zM475.58 739.6h18.62v4.4h-18.62z"/>
<path fill="#fff0f5" d="M280 333h23v7.5h-23zM280 346.5h23v2.5h-23zM280 350h23v2h-23zM280 364.5h23v1.5h-23zM280 390h23v2h-23zM280 433h23v53h-23zM280 487h23v11h-23zM280 587h23v6h-23z"/>
<path fill="#b4cbf5" d="M308 100h18.62v1h-18.62zM308 331.5h18.62v1.5h-18.62zM308 345h18.62v2h-18.62zM308 363h18.62v2h-18.62zM308 375h18.62v1h-18.62zM308 381h18.62v3.5h-18.62zM308 400h18.62v1h-18.62zM308 406h18.62v1h-18.62zM308 503h18.62v1h-18.62zM308 529h18.62v1h-18.62zM308 535.5h18.62v2.5h-18.62zM308 543.3h18.62v1.9h-18.62zM308 654h18.62v1h-18.62zM308 717.5h18.62v1h-18.62zM326.62 99h18.62v1.8h-18.62zM326.62 103.8h18.62v1.2h-18.62zM326.62 106h18.62v3h-18.62zM326.62 119h18.62v1h-18.62zM326.62 125.6h18.62v2.2h-18.62zM326.62 131.5h18.62v1.7h-18.62zM326.62 138h18.62v1.5h-18.62zM326.62 151.2h18.62v1.5h-18.62zM326.62 157.8h18.62v1.4h-18.62zM326.62 168h18.62v1.7h-18.62zM326.62 176h18.62v1.5h-18.62zM326.62 188h18.62v2h-18.62zM326.62 191.5h18.62v3.5h-18.62zM326.62 207h18.62v1.5h-18.62zM326.62 228h18.62v1h-18.62zM326.62 236h18.62v1h-18.62zM326.62 247.3h18.62v1.5h-18.62zM326.62 256h18.62v1.5h-18.62zM326.62 259h18.62v1.5h-18.62zM326.62 264h18.62v1.5h-18.62zM326.62 272h18.62v3h-18.62zM326.62 278h18.62v2h-18.62zM326.62 289h18.62v1.4h-18.62zM326.62 306.4h18.62v2.2h-18.62zM326.62 315.2h18.62v2.2h-18.62zM326.62 319.5h18.62v2.2h-18.62zM326.62 324h18.62v0.7h-18.62zM326.62 330h18.62v1h-18.62zM326.62 345.5h18.62v1h-18.62zM326.62 351h18.62v1h-18.62zM326.62 354.5h18.62v1h-18.62zM326.62 369h18.62v1h-18.62zM326.62 376h18.62v4h-18.62zM326.62 386h18.62v2h-18.62zM326.62 400h18.62v2h-18.62zM326.62 406h18.62v1h-18.62zM326.62 417h18.62v2h-18.62zM326.62 516.5h18.62v3h-18.62zM326.62 522.5h18.62v1h-18.62zM326.62 523.5h18.62v1h-18.62zM326.62 524.5h18.62v2h-18.62zM326.62 540.5h18.62v2h-18.62zM326.62 548.5h18.62v2h-18.62zM326.62 557.5h18.62v1h-18.62zM326.62 559.5h18.62v3h-18.62zM326.62 562.5h18.62v3h-18.62zM326.62 568.5h18.62v1h-18.62zM326.62 570h18.62v1h-18.62zM326.62 571h18.62v2h-18.62zM326.62 579h18.62v1h-18.62zM326.62 581h18.62v1h-18.62zM326.62 582h18.62v3h-18.62zM326.62 599h18.62v1h-18.62zM326.62 608h18.62v1h-18.62zM326.62 628.5h18.62v1h-18.62zM326.62 634.5h18.62v3h-18.62zM326.62 637.5h18.62v1h-18.62zM326.62 640.5h18.62v1h-18.62zM326.62 645h18.62v1.5h-18.62zM326.62 652h18.62v1h-18.62zM326.62 655h18.62v1h-18.62zM326.62 658h18.62v2h-18.62zM326.62 660h18.62v1h-18.62zM326.62 702.5h18.62v2h-18.62zM326.62 710.5h18.62v1h-18.62zM326.62 714.5h18.62v1h-18.62zM326.62 725h18.62v1.5h-18.62zM326.62 729.5h18.62v1.5h-18.62zM326.62 731h18.62v1h-18.62zM326.62 737.5h18.62v1h-18.62zM326.62 741.5h18.62v3h-18.62zM345.24 99h18.62v1.5h-18.62zM345.24 105h18.62v0.5h-18.62zM345.24 387h18.62v1.5h-18.62zM345.24 400h18.62v1.5h-18.62zM345.24 420h18.62v1h-18.62zM345.24 421h18.62v1h-18.62zM345.24 508h18.62v2.4h-18.62zM345.24 533.5h18.62v0.5h-18.62zM363.86 100h18.62v1h-18.62zM363.86 331h18.62v1h-18.62zM363.86 352h18.62v4h-18.62zM363.86 387h18.62v1.5h-18.62zM363.86 390h18.62v1h-18.62zM363.86 403.5h18.62v1.5h-18.62zM363.86 405h18.62v3h-18.62zM363.86 408h18.62v1h-18.62zM363.86 414h18.62v1h-18.62zM363.86 429h18.62v3h-18.62zM363.86 462h18.62v3h-18.62zM363.86 472h18.62v1h-18.62zM363.86 474h18.62v2h-18.62zM363.86 478h18.62v1h-18.62zM363.86 479h18.62v1.5h-18.62zM363.86 566.4h18.62v1.8h-18.62zM363.86 605.3h18.62v1h-18.62zM363.86 608.3h18.62v1h-18.62zM363.86 613.3h18.62v1h-18.62zM363.86 688.7h18.62v1h-18.62zM363.86 692.2h18.62v2h-18.62zM363.86 705.5h18.62v1h-18.62zM363.86 714.3h18.62v3h-18.62zM363.86 718.8h18.62v1h-18.62zM382.48 342.5h18.62v2.5h-18.62zM382.48 427.5h18.62v1.5h-18.62zM401.1 99h18.62v1h-18.62zM401.1 549h18.62v1h-18.62zM401.1 561h18.62v1h-18.62zM401.1 562h18.62v3h-18.62zM401.1 565h18.62v3h-18.62zM401.1 568h18.62v3h-18.62zM401.1 573.5h18.62v1h-18.62zM401.1 585.5h18.62v2h-18.62zM401.1 591h18.62v2h-18.62zM401.1 593h18.62v1h-18.62zM401.1 601h18.62v2h-18.62zM401.1 614h18.62v2h-18.62zM401.1 618h18.62v1h-18.62zM401.1 627h18.62v2h-18.62zM401.1 636h18.62v1h-18.62zM401.1 639h18.62v1.5h-18.62zM401.1 672.5h18.62v2h-18.62zM401.1 674.5h18.62v2h-18.62zM401.1 682.5h18.62v1.5h-18.62zM401.1 688.5h18.62v1h-18.62zM401.1 689.5h18.62v1h-18.62zM401.1 694.5h18.62v2h-18.62zM401.1 702.5h18.62v1.5h-18.62zM401.1 709h18.62v2h-18.62zM401.1 711h18.62v1h-18.62zM401.1 723h18.62v1h-18.62zM401.1 727.5h18.62v1.5h-18.62zM401.1 743h18.62v2h-18.62zM419.72 117h18.62v1h-18.62zM419.72 152.5h18.62v1h-18.62zM419.72 166.5h18.62v1.5h-18.62zM419.72 176h18.62v3h-18.62zM419.72 186h18.62v1.5h-18.62zM419.72 193h18.62v1h-18.62zM419.72 194h18.62v1h-18.62zM419.72 203h18.62v1.5h-18.62zM419.72 250.5h18.62v1h-18.62zM419.72 262.5h18.62v1h-18.62zM419.72 270.5h18.62v1.5h-18.62zM419.72 277h18.62v2h-18.62zM419.72 304h18.62v1.5h-18.62zM419.72 312h18.62v1h-18.62zM419.72 314h18.62v3h-18.62zM419.72 349.5h18.62v1h-18.62zM419.72 351.5h18.62v1h-18.62zM419.72 377h18.62v1.5h-18.62zM419.72 378.5h18.62v2h-18.62zM419.72 386h18.62v1h-18.62zM419.72 391h18.62v2h-18.62zM419.72 403.5h18.62v1h-18.62zM419.72 414.5h18.62v2h-18.62zM419.72 417.5h18.62v2h-18.62zM419.72 423.5h18.62v2h-18.62zM419.72 430.5h18.62v1h-18.62zM419.72 434.5h18.62v1.5h-18.62zM419.72 518.1h18.62v2h-18.62zM419.72 521.6h18.62v1.5h-18.62zM419.72 541.1h18.62v1h-18.62zM419.72 544.1h18.62v1h-18.62zM419.72 550.1h18.62v1.5h-18.62zM419.72 578.5h18.62v1h-18.62zM419.72 589h18.62v3h-18.62zM419.72 597h18.62v2h-18.62zM419.72 614h18.62v3h-18.62zM419.72 635.5h18.62v1h-18.62zM419.72 642.5h18.62v1h-18.62zM419.72 653h18.62v3h-18.62zM419.72 667h18.62v3h-18.62zM419.72 672h18.62v2h-18.62zM419.72 679h18.62v3h-18.62zM419.72 685h18.62v1h-18.62zM419.72 707.5h18.62v2h-18.62zM419.72 724.5h18.62v1h-18.62zM419.72 726.5h18.62v3h-18.62zM456.96 99h18.62v2.6h-18.62zM456.96 106h18.62v3h-18.62zM456.96 152.5h18.62v1h-18.62zM456.96 157h18.62v1h-18.62zM456.96 159h18.62v3h-18.62zM456.96 162h18.62v1h-18.62zM456.96 166h18.62v1h-18.62zM456.96 185.5h18.62v1h-18.62zM456.96 196h18.62v1h-18.62zM456.96 209h18.62v2h-18.62zM456.96 216h18.62v1.5h-18.62zM456.96 217.5h18.62v1h-18.62zM456.96 218.5h18.62v1h-18.62zM456.96 240h18.62v1.5h-18.62zM456.96 243.5h18.62v2h-18.62zM456.96 251.5h18.62v2h-18.62zM456.96 255.5h18.62v1h-18.62zM456.96 284h18.62v1h-18.62zM456.96 289h18.62v1h-18.62zM456.96 292h18.62v1h-18.62zM456.96 294h18.62v1h-18.62zM456.96 312.5h18.62v3h-18.62zM456.96 342.5h18.62v2h-18.62zM456.96 348.5h18.62v1.5h-18.62zM456.96 362.5h18.62v3h-18.62zM456.96 373h18.62v1h-18.62zM456.96 391h18.62v1h-18.62zM456.96 394h18.62v2h-18.62zM456.96 402h18.62v1h-18.62zM456.96 406.5h18.62v1h-18.62zM456.96 407.5h18.62v3h-18.62zM456.96 416h18.62v1h-18.62zM456.96 417h18.62v2h-18.62zM456.96 537.5h18.62v1h-18.62zM456.96 538.5h18.62v2.5h-18.62zM456.96 545h18.62v2h-18.62zM456.96 547h18.62v1h-18.62zM456.96 552h18.62v1h-18.62zM456.96 561.5h18.62v1h-18.62zM456.96 573h18.62v1h-18.62zM456.96 581.5h18.62v1.5h-18.62zM456.96 584h18.62v2h-18.62zM456.96 588h18.62v1.5h-18.62zM456.96 589.5h18.62v1h-18.62zM456.96 591.5h18.62v2h-18.62zM456.96 606.5h18.62v1h-18.62zM456.96 610.5h18.62v2h-18.62zM456.96 620.5h18.62v1h-18.62zM456.96 621.5h18.62v2h-18.62zM456.96 629.5h18.62v3h-18.62zM456.96 639.5h18.62v1h-18.62zM456.96 640.5h18.62v1.5h-18.62zM456.96 642h18.62v1.5h-18.62zM456.96 669.5h18.62v1h-18.62zM456.96 672.5h18.62v2h-18.62zM456.96 676.5h18.62v2h-18.62zM456.96 679.5h18.62v1h-18.62zM456.96 684.5h18.62v1h-18.62zM456.96 687h18.62v1h-18.62zM456.96 688h18.62v1.5h-18.62zM456.96 702.5h18.62v1h-18.62zM456.96 704.5h18.62v2h-18.62zM456.96 708.5h18.62v2h-18.62zM456.96 716.5h18.62v1h-18.62zM456.96 719.5h18.62v1.5h-18.62zM456.96 721h18.62v1h-18.62zM456.96 732h18.62v1h-18.62zM456.96 737h18.62v2h-18.62zM456.96 739h18.62v1h-18.62zM456.96 743.5h18.62v1h-18.62zM456.96 745.5h18.62v0.5h-18.62zM475.58 99h18.62v2.6h-18.62zM475.58 543h18.62v2h-18.62zM475.58 611.7h18.62v2h-18.62zM475.58 617.7h18.62v3h-18.62z"/>
</g>
<path fill="#fff" fill-opacity="0.12" d="M196 102.7H494.2V122.7H196zM196 142.7H494.2V162.7H196zM196 182.7H494.2V202.7H196zM196 222.7H494.2V242.7H196zM196 262.7H494.2V282.7H196zM196 302.7H494.2V322.7H196zM196 342.7H494.2V362.7H196zM196 382.7H494.2V402.7H196zM196 422.7H494.2V442.7H196zM196 462.7H494.2V482.7H196zM196 502.7H494.2V522.7H196zM196 542.7H494.2V562.7H196zM196 582.7H494.2V602.7H196zM196 622.7H494.2V642.7H196zM196 662.7H494.2V682.7H196zM196 702.7H494.2V722.7H196zM196 742.7H494.2V745.7H196z"/>
<text transform="translate(209.9,94.3) rotate(-90)" style="font-family:'Liberation Sans',sans-serif;font-size:12.8px;font-weight:bold" fill="#000">Species</text>
<text transform="translate(240.2,93.2) rotate(-90)" style="font-family:'Liberation Sans',sans-serif;font-size:13px;font-weight:bold;font-style:normal" fill="#000">Sequence type</text>
<text transform="translate(268.9,93.2) rotate(-90)" style="font-family:'Liberation Sans',sans-serif;font-size:13px;font-weight:bold;font-style:normal" fill="#000">BAPS</text>
<text transform="translate(295.6,93.2) rotate(-90)" style="font-family:'Liberation Sans',sans-serif;font-size:13px;font-weight:bold;font-style:normal" fill="#000">Country</text>
<text transform="translate(321.0,93.4) rotate(-90)" style="font-family:'Liberation Sans',sans-serif;font-size:13px;font-weight:normal;font-style:italic" fill="#111">act</text>
<text transform="translate(339.6,93.4) rotate(-90)" style="font-family:'Liberation Sans',sans-serif;font-size:13px;font-weight:normal;font-style:italic" fill="#111">aerA</text>
<text transform="translate(358.2,93.4) rotate(-90)" style="font-family:'Liberation Sans',sans-serif;font-size:13px;font-weight:normal;font-style:italic" fill="#111">alt</text>
<text transform="translate(376.9,93.4) rotate(-90)" style="font-family:'Liberation Sans',sans-serif;font-size:13px;font-weight:normal;font-style:italic" fill="#111">ascF-G</text>
<text transform="translate(395.5,93.4) rotate(-90)" style="font-family:'Liberation Sans',sans-serif;font-size:13px;font-weight:normal;font-style:italic" fill="#111">ast</text>
<text transform="translate(414.1,93.4) rotate(-90)" style="font-family:'Liberation Sans',sans-serif;font-size:13px;font-weight:normal;font-style:italic" fill="#111">ela</text>
<text transform="translate(432.7,93.4) rotate(-90)" style="font-family:'Liberation Sans',sans-serif;font-size:13px;font-weight:normal;font-style:italic" fill="#111">fla</text>
<text transform="translate(451.3,93.4) rotate(-90)" style="font-family:'Liberation Sans',sans-serif;font-size:13px;font-weight:normal;font-style:italic" fill="#111">hlyA</text>
<text transform="translate(470.0,93.4) rotate(-90)" style="font-family:'Liberation Sans',sans-serif;font-size:13px;font-weight:normal;font-style:italic" fill="#111">laf</text>
<text transform="translate(488.6,93.4) rotate(-90)" style="font-family:'Liberation Sans',sans-serif;font-size:13px;font-weight:normal;font-style:italic" fill="#111">lip</text>
<path d="M308.7 16.8V6.7H350" fill="none" stroke="#1a0d0d" stroke-width="2.2" stroke-linecap="round" stroke-linejoin="round"/>
<path d="M452 6.7H492.8V16.8" fill="none" stroke="#1a0d0d" stroke-width="2.2" stroke-linecap="round" stroke-linejoin="round"/>
<text x="401.5" y="9.4" text-anchor="middle" style="font-family:'Liberation Sans',sans-serif;font-size:13px;font-weight:bold" fill="#000">Virulence genes</text>
<rect x="507.5" y="166.5" width="170.5" height="219.3" fill="#fff" stroke="#f0f0f0" stroke-width="1"/>
<text x="511.8" y="178.6" style="font-family:'Liberation Sans',sans-serif;font-size:11px;font-weight:bold" fill="#111">Species</text>
<path d="M510 183.5H675.5" stroke="#999" stroke-width="1"/>
<circle cx="518.9" cy="196.7" r="7.2" fill="#377eb8" stroke="#444" stroke-width="0.8"/>
<text x="533.2" y="200.7" style="font-family:'Liberation Sans',sans-serif;font-size:11px;font-style:italic" fill="#222">Aeromonas dhakensis</text>
<circle cx="518.9" cy="218.6" r="7.2" fill="#e41a1c" stroke="#444" stroke-width="0.8"/>
<text x="533.2" y="222.6" style="font-family:'Liberation Sans',sans-serif;font-size:11px;font-style:italic" fill="#222">Aeromonas caviae</text>
<circle cx="518.9" cy="240.5" r="7.2" fill="#4daf4a" stroke="#444" stroke-width="0.8"/>
<text x="533.2" y="244.5" style="font-family:'Liberation Sans',sans-serif;font-size:11px;font-style:italic" fill="#222">Aeromonas enteropelogenes</text>
<circle cx="518.9" cy="262.4" r="7.2" fill="#984ea3" stroke="#444" stroke-width="0.8"/>
<text x="533.2" y="266.4" style="font-family:'Liberation Sans',sans-serif;font-size:11px;font-style:italic" fill="#222">Aeromonas hydrophila</text>
<circle cx="518.9" cy="284.3" r="7.2" fill="#ff7f00" stroke="#444" stroke-width="0.8"/>
<text x="533.2" y="288.3" style="font-family:'Liberation Sans',sans-serif;font-size:11px;font-style:italic" fill="#222">Aeromonas jandaei</text>
<circle cx="518.9" cy="306.2" r="7.2" fill="#ffff33" stroke="#444" stroke-width="0.8"/>
<text x="533.2" y="310.2" style="font-family:'Liberation Sans',sans-serif;font-size:11px;font-style:italic" fill="#222">Aeromonas salmonicida</text>
<circle cx="518.9" cy="328.1" r="7.2" fill="#a65628" stroke="#444" stroke-width="0.8"/>
<text x="533.2" y="332.1" style="font-family:'Liberation Sans',sans-serif;font-size:11px;font-style:italic" fill="#222">Aeromonas sanarellii</text>
<circle cx="518.9" cy="350.0" r="7.2" fill="#f781bf" stroke="#444" stroke-width="0.8"/>
<text x="533.2" y="354.0" style="font-family:'Liberation Sans',sans-serif;font-size:11px;font-style:italic" fill="#222">Aeromonas spp.</text>
<circle cx="518.9" cy="371.9" r="7.2" fill="#999999" stroke="#444" stroke-width="0.8"/>
<text x="533.2" y="375.9" style="font-family:'Liberation Sans',sans-serif;font-size:11px;font-style:italic" fill="#222">Aeromonas veronii</text>
<rect x="506.7" y="418.4" width="114.80000000000001" height="61.200000000000045" fill="#fff" stroke="#f0f0f0" stroke-width="1"/>
<text x="511" y="430.8" style="font-family:'Liberation Sans',sans-serif;font-size:11px;font-weight:bold" fill="#111">Sequence type (STs)</text>
<path d="M510 436.5H618.5" stroke="#999" stroke-width="1"/>
<circle cx="517.5" cy="448.9" r="7.1" fill="#4d4d4d" stroke="#444" stroke-width="0.8"/>
<text x="532.5" y="452.9" style="font-family:'Liberation Sans',sans-serif;font-size:11px;font-style:normal" fill="#222">Novel-ST</text>
<circle cx="517.5" cy="470.8" r="7.1" fill="#dcdcdc" stroke="#444" stroke-width="0.8"/>
<text x="532.5" y="474.8" style="font-family:'Liberation Sans',sans-serif;font-size:11px;font-style:normal" fill="#222">Assigned</text>
<path d="M507.5 505.5H544.8M507.5 505.5V606.6M545 524V606.6M592.5 524V606.6M639.8 524V606.6M684 524V606.6" stroke="#f0f0f0" stroke-width="1" fill="none"/>
<text x="510.8" y="516.6" style="font-family:'Liberation Sans',sans-serif;font-size:10px;font-weight:bold" fill="#111">BAPS</text>
<path d="M508 522.5H543.3" stroke="#999" stroke-width="1"/>
<circle cx="516.8" cy="533.7" r="7.1" fill="#9e0142" stroke="#444" stroke-width="0.8"/>
<text x="531.3" y="537.2" style="font-family:'Liberation Sans',sans-serif;font-size:10px;font-style:normal" fill="#222">1</text>
<circle cx="516.8" cy="554.2" r="7.1" fill="#c32a4b" stroke="#444" stroke-width="0.8"/>
<text x="531.3" y="557.7" style="font-family:'Liberation Sans',sans-serif;font-size:10px;font-style:normal" fill="#222">2</text>
<circle cx="516.8" cy="575.2" r="7.1" fill="#df4e4b" stroke="#444" stroke-width="0.8"/>
<text x="531.3" y="578.7" style="font-family:'Liberation Sans',sans-serif;font-size:10px;font-style:normal" fill="#222">3</text>
<circle cx="516.8" cy="595.9" r="7.1" fill="#f46d43" stroke="#444" stroke-width="0.8"/>
<text x="531.3" y="599.4" style="font-family:'Liberation Sans',sans-serif;font-size:10px;font-style:normal" fill="#222">4</text>
<circle cx="563.3" cy="535" r="7.1" fill="#fa9857" stroke="#444" stroke-width="0.8"/>
<text x="577.3" y="538.5" style="font-family:'Liberation Sans',sans-serif;font-size:10px;font-style:normal" fill="#222">5</text>
<circle cx="563.3" cy="555.5" r="7.1" fill="#fdbf6f" stroke="#444" stroke-width="0.8"/>
<text x="577.3" y="559.0" style="font-family:'Liberation Sans',sans-serif;font-size:10px;font-style:normal" fill="#222">6</text>
<circle cx="563.3" cy="576" r="7.1" fill="#fee08b" stroke="#444" stroke-width="0.8"/>
<text x="577.3" y="579.5" style="font-family:'Liberation Sans',sans-serif;font-size:10px;font-style:normal" fill="#222">7</text>
<circle cx="563.3" cy="596.7" r="7.1" fill="#fff5ae" stroke="#444" stroke-width="0.8"/>
<text x="577.3" y="600.2" style="font-family:'Liberation Sans',sans-serif;font-size:10px;font-style:normal" fill="#222">8</text>
<circle cx="611.3" cy="533.7" r="7.1" fill="#f7fcb2" stroke="#444" stroke-width="0.8"/>
<text x="625.3" y="537.2" style="font-family:'Liberation Sans',sans-serif;font-size:10px;font-style:normal" fill="#222">9</text>
<circle cx="611.3" cy="554.2" r="7.1" fill="#e6f598" stroke="#444" stroke-width="0.8"/>
<text x="625.3" y="557.7" style="font-family:'Liberation Sans',sans-serif;font-size:10px;font-style:normal" fill="#222">10</text>
<circle cx="611.3" cy="575.2" r="7.1" fill="#bfe5a0" stroke="#444" stroke-width="0.8"/>
<text x="625.3" y="578.7" style="font-family:'Liberation Sans',sans-serif;font-size:10px;font-style:normal" fill="#222">11</text>
<circle cx="611.3" cy="596.2" r="7.1" fill="#94d4a4" stroke="#444" stroke-width="0.8"/>
<text x="625.3" y="599.7" style="font-family:'Liberation Sans',sans-serif;font-size:10px;font-style:normal" fill="#222">12</text>
<circle cx="656" cy="534.5" r="7.1" fill="#66c2a5" stroke="#444" stroke-width="0.8"/>
<text x="670" y="538.0" style="font-family:'Liberation Sans',sans-serif;font-size:10px;font-style:normal" fill="#222">13</text>
<circle cx="656" cy="555" r="7.1" fill="#439bb5" stroke="#444" stroke-width="0.8"/>
<text x="670" y="558.5" style="font-family:'Liberation Sans',sans-serif;font-size:10px;font-style:normal" fill="#222">14</text>
<circle cx="656" cy="575.4" r="7.1" fill="#4175b4" stroke="#444" stroke-width="0.8"/>
<text x="670" y="578.9" style="font-family:'Liberation Sans',sans-serif;font-size:10px;font-style:normal" fill="#222">15</text>
<circle cx="656" cy="596.2" r="7.1" fill="#5e4fa2" stroke="#444" stroke-width="0.8"/>
<text x="670" y="599.7" style="font-family:'Liberation Sans',sans-serif;font-size:10px;font-style:normal" fill="#222">16</text>
<rect x="507.5" y="627.5" width="80.39999999999998" height="123.39999999999998" fill="#fff" stroke="#f0f0f0" stroke-width="1"/>
<text x="509.8" y="638.2" style="font-family:'Liberation Sans',sans-serif;font-size:10px;font-weight:bold" fill="#111">Country</text>
<path d="M508 644.5H585.8" stroke="#999" stroke-width="1"/>
<circle cx="516.2" cy="656.1" r="7.0" fill="#6495ed" stroke="#444" stroke-width="0.8"/>
<text x="530.6" y="659.5" style="font-family:'Liberation Sans',sans-serif;font-size:10px;font-style:normal" fill="#222">Bangladesh</text>
<circle cx="516.2" cy="676.8" r="7.0" fill="#f5148a" stroke="#444" stroke-width="0.8"/>
<text x="530.6" y="680.1" style="font-family:'Liberation Sans',sans-serif;font-size:10px;font-style:normal" fill="#222">India</text>
<circle cx="516.2" cy="697.4" r="7.0" fill="#3cec8c" stroke="#444" stroke-width="0.8"/>
<text x="530.6" y="700.8" style="font-family:'Liberation Sans',sans-serif;font-size:10px;font-style:normal" fill="#222">Pakistan</text>
<circle cx="516.2" cy="718.1" r="7.0" fill="#fff0f5" stroke="#444" stroke-width="0.8"/>
<text x="530.6" y="721.5" style="font-family:'Liberation Sans',sans-serif;font-size:10px;font-style:normal" fill="#222">Other</text>
<circle cx="516.2" cy="738.7" r="7.0" fill="#ffffff" stroke="#444" stroke-width="0.8"/>
<text x="530.6" y="742.1" style="font-family:'Liberation Sans',sans-serif;font-size:10px;font-style:normal" fill="#222">Unknown</text>
<rect x="598.6" y="628.6" width="87.39999999999998" height="60.299999999999955" fill="#fff" stroke="#f0f0f0" stroke-width="1"/>
<text x="602.5" y="640.1" style="font-family:'Liberation Sans',sans-serif;font-size:10.2px;font-weight:bold" fill="#111">Virulence genes</text>
<path d="M600.8 645.9H682.6" stroke="#bbb" stroke-width="2"/>
<circle cx="608.7" cy="657.4" r="6.9" fill="#ffffff" stroke="#444" stroke-width="0.8"/>
<text x="622.9" y="661" style="font-family:'Liberation Sans',sans-serif;font-size:10px;font-style:normal" fill="#222">Absent</text>
<circle cx="608.7" cy="678.3" r="6.9" fill="#6495ed" stroke="#444" stroke-width="0.8"/>
<text x="622.9" y="681.8" style="font-family:'Liberation Sans',sans-serif;font-size:10px;font-style:normal" fill="#222">Present</text>
<path d="M0.6 742.5H80.6M0.6 740.6V744.6M80.6 740.6V744.6M40.5 742.5V744.2" stroke="#777" stroke-width="1" fill="none"/>
<text x="41" y="740.8" text-anchor="middle" style="font-family:'Liberation Sans',sans-serif;font-size:8.6px;font-weight:bold" fill="#666">0.1</text>
</svg>
</body></html>
